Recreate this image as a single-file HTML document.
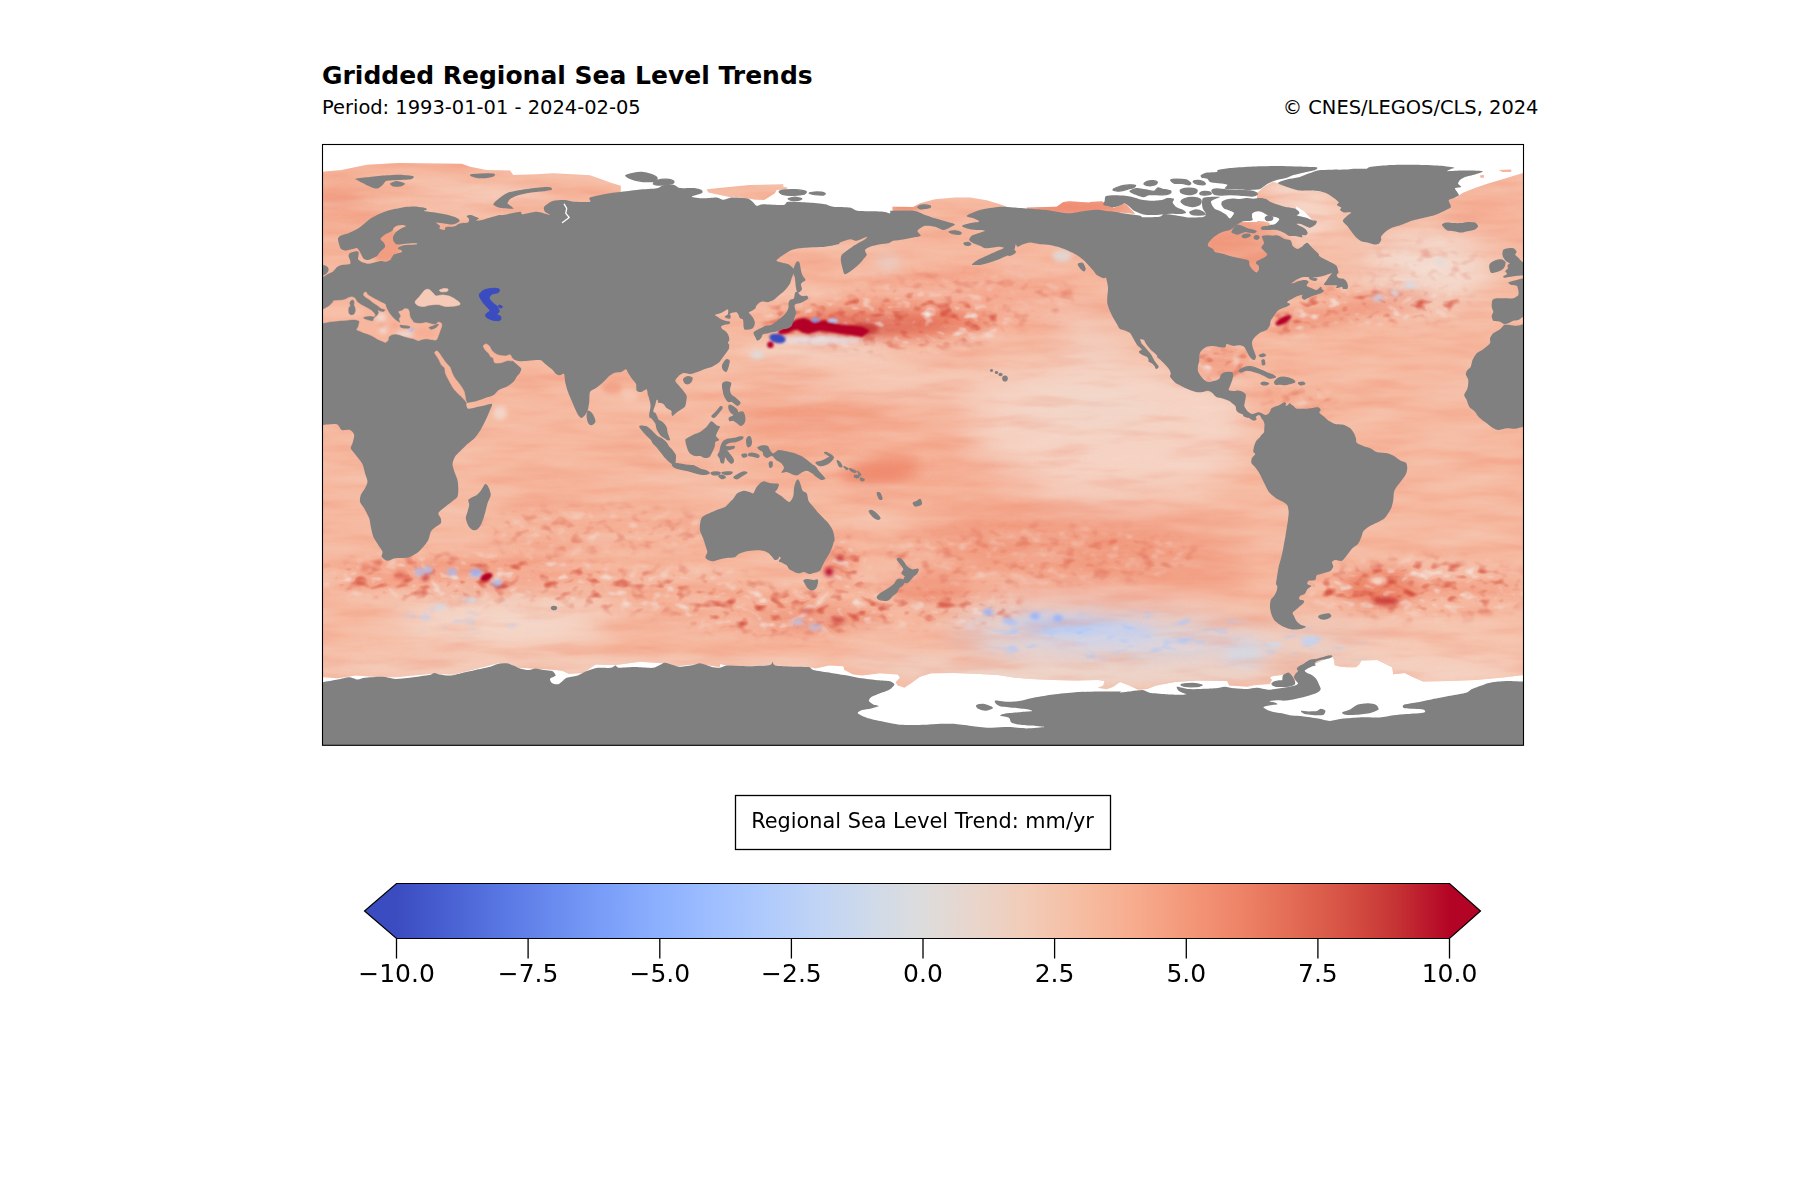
<!DOCTYPE html>
<html lang="en">
<head>
<meta charset="utf-8">
<title>Gridded Regional Sea Level Trends</title>
<style>
html,body{margin:0;padding:0;background:#fff;}
body{width:1800px;height:1200px;overflow:hidden;position:relative;font-family:"DejaVu Sans","Liberation Sans",sans-serif;color:#000;}
svg{position:absolute;left:0;top:0;display:block;}
.t{font-family:"DejaVu Sans","Liberation Sans",sans-serif;fill:#000;}
</style>
</head>
<body>
<svg width="1800" height="1200" viewBox="0 0 1800 1200">
<defs>
<linearGradient id="cw" gradientUnits="userSpaceOnUse" x1="396.5" y1="0" x2="1449.5" y2="0">
<stop offset="0" stop-color="#3b4cc0"/><stop offset="0.05" stop-color="#4961d2"/><stop offset="0.1" stop-color="#5977e3"/><stop offset="0.15" stop-color="#6a8bef"/><stop offset="0.2" stop-color="#7b9ff9"/><stop offset="0.25" stop-color="#8db0fe"/><stop offset="0.3" stop-color="#9ebeff"/><stop offset="0.35" stop-color="#afcafc"/><stop offset="0.4" stop-color="#c0d4f5"/><stop offset="0.45" stop-color="#cfdaea"/><stop offset="0.5" stop-color="#dddcdc"/><stop offset="0.55" stop-color="#e9d5cb"/><stop offset="0.6" stop-color="#f2cbb7"/><stop offset="0.65" stop-color="#f6bda2"/><stop offset="0.7" stop-color="#f7ac8e"/><stop offset="0.75" stop-color="#f4987a"/><stop offset="0.8" stop-color="#ee8468"/><stop offset="0.85" stop-color="#e36c55"/><stop offset="0.9" stop-color="#d65244"/><stop offset="0.95" stop-color="#c53334"/><stop offset="1" stop-color="#b40426"/>
</linearGradient>
</defs>
<text class="t" x="322" y="83.7" font-size="25" font-weight="bold">Gridded Regional Sea Level Trends</text>
<text class="t" x="322" y="113.7" font-size="19.44">Period: 1993-01-01 - 2024-02-05</text>
<text class="t" x="1538.5" y="113.7" font-size="19.44" text-anchor="end">© CNES/LEGOS/CLS, 2024</text>
<defs><clipPath id="mapclip"><rect x="322.5" y="144.5" width="1201" height="600.8"/></clipPath>
<clipPath id="dataclip"><path d="M315,172.5 322,171.7 341.7,170 366.7,164.7 398.3,163 461.7,163.8 470,166.7 486.7,170 510,170.5 513.3,175 536.7,174.2 553.3,173.3 590,175.3 603.3,180 610,182.5 620.8,185.8 620.8,206.7 892.5,223.3 892.5,206.7 913.3,207 920,203.3 935,199.2 955,197.5 970,197.5 986.7,200.3 1000,204.2 1006.7,206.7 1013.3,223.3 1257,222 1257,193 1265,186 1273,182 1290,186 1312.5,190.8 1325,192.5 1456.2,197.5 1462.5,193.1 1475,188.1 1487.5,183.8 1500,180 1512.5,176.2 1523.1,173.1 1531.2,171.9 1541.4,675.3 1522,675.3 1502.7,677.6 1475.3,679.9 1448,681 1422.9,681.5 1413.8,677.6 1404.7,673 1393.3,674.2 1392.2,667.3 1377.4,660 1361.4,660.5 1359.2,664.6 1356,667.3 1346.6,667.3 1339.3,666.6 1334.6,665.3 1334,660 1332.3,656.6 1330,658 1323.4,660 1310,666 1303.4,670.8 1299.9,680.1 1289.9,681.2 1283.3,674.6 1279.9,675.3 1273.3,676 1269.9,677.4 1271.9,680.1 1269.9,684 1253.9,685.3 1247.6,686.7 1229.3,685.6 1227.1,681 1197.4,680.5 1174.7,682.1 1156.4,685.6 1147.3,689 1138.2,689.7 1129.1,685.6 1120,682.1 1113.3,686.7 1106.7,689.3 1097.8,687.8 1103.3,685.6 1104.4,681.1 1097.8,680 1075.6,680.4 1053.3,680 1031.1,678.9 1015.6,677.8 997.8,675.1 975.6,673.8 953.3,672.9 931.1,673.3 920,676.7 911.1,683.3 904.4,687.8 897.8,685.6 895.6,682.2 900,677.8 897.8,674.4 880,673.3 862.2,675.6 853.3,674.4 844.4,670 843.3,666.2 828.9,665.6 815.6,668.4 808.9,667.1 793.3,666.7 770,664.9 746.7,666.2 726.7,665.6 720,664 720,667.1 697.8,664 675.6,666.2 662.2,663.3 640,661.8 615.6,664.9 595.6,664.4 583.3,672.9 568.9,673.8 562.2,670.7 551.1,669.6 520,667.8 497.8,663.3 475.6,668.9 453.3,674.4 431.1,673.8 395.6,677.3 373.3,676.7 355.6,675.6 337.8,678.2 322.7,677.3 313.3,677.3Z M706.7,189.2 726.7,187.2 750,185 783.3,184.2 783.3,186.7 787.5,187.5 786.7,189.2 776.7,190 775,193.3 768.3,197.5 764.2,200 755,199.7 746.7,198.3 733.3,196.7 731.7,197.5 720,195 708.3,192.5Z M1026.7,207.5 1056.7,206.7 1063.3,202 1070,201.3 1088.3,202.5 1103.3,202 1113.3,203.3 1113.3,218.3 1026.7,218.3Z M1090,202 1102,201.3 1107.3,206 1114,208 1123.3,204 1125.3,203.3 1135.3,214 1123.3,212.7 1090,212.7Z M1498.8,170 1511.2,169.4 1511.2,171.9 1502.5,171.9Z M1480,175.6 1483.8,175 1483.8,177.8 1480.6,177.8Z"/></clipPath>
</defs>
<g clip-path="url(#mapclip)">
<g clip-path="url(#dataclip)">
<rect x="320" y="140" width="1210" height="610" fill="#f6b9a0"/>
<defs><filter id="blL" filterUnits="userSpaceOnUse" x="200" y="60" width="1450" height="780"><feGaussianBlur stdDeviation="18"/></filter><filter id="blM" filterUnits="userSpaceOnUse" x="200" y="60" width="1450" height="780"><feGaussianBlur stdDeviation="7"/></filter><filter id="blS" filterUnits="userSpaceOnUse" x="200" y="60" width="1450" height="780"><feGaussianBlur stdDeviation="2.2"/></filter><filter id="blX" filterUnits="userSpaceOnUse" x="200" y="60" width="1450" height="780"><feGaussianBlur stdDeviation="0.8"/></filter></defs>
<g filter="url(#blL)">
<ellipse cx="1010" cy="380" rx="260" ry="16" fill="#f5d6c7" opacity="0.7"/>
<ellipse cx="890" cy="432" rx="165" ry="20" fill="#f4a186" opacity="0.6"/>
<ellipse cx="960" cy="300" rx="130" ry="28" fill="#f4a186" opacity="0.55"/>
<ellipse cx="1110" cy="430" rx="140" ry="72" fill="#f4d3c4" opacity="0.95"/>
<ellipse cx="1090" cy="405" rx="70" ry="18" fill="#efd8cc" opacity="0.8"/>
<ellipse cx="1090" cy="340" rx="30" ry="25" fill="#f0d6ca" opacity="0.7"/>
<ellipse cx="790" cy="420" rx="50" ry="40" fill="#f4a58a" opacity="0.5"/>
<ellipse cx="950" cy="478" rx="95" ry="14" fill="#f39a7c" opacity="0.6"/>
<ellipse cx="1080" cy="548" rx="170" ry="36" fill="#f08f72" opacity="0.7" transform="rotate(4 1080 548)"/>
<ellipse cx="1110" cy="640" rx="160" ry="24" fill="#d3dcee" opacity="0.95" transform="rotate(3 1110 640)"/>
<ellipse cx="600" cy="530" rx="110" ry="18" fill="#f4a186" opacity="0.5"/>
<ellipse cx="500" cy="622" rx="110" ry="28" fill="#f3dace" opacity="0.95"/>
<ellipse cx="720" cy="612" rx="120" ry="20" fill="#f3a084" opacity="0.4"/>
<ellipse cx="1425" cy="268" rx="68" ry="36" fill="#f2dcd2" opacity="0.95"/>
<ellipse cx="1305" cy="215" rx="38" ry="32" fill="#f5dacd" opacity="0.95"/>
<ellipse cx="1490" cy="205" rx="40" ry="35" fill="#f4a58a" opacity="0.4"/>
<ellipse cx="345" cy="205" rx="40" ry="25" fill="#f19579" opacity="0.55"/>
<ellipse cx="1320" cy="647" rx="95" ry="17" fill="#e3dad8" opacity="0.8"/>
<ellipse cx="1440" cy="652" rx="95" ry="26" fill="#f5d0bf" opacity="0.75"/>
</g>
<g filter="url(#blM)">
<ellipse cx="810" cy="418" rx="75" ry="12" fill="#f08f72" opacity="0.6"/>
<ellipse cx="890" cy="322" rx="100" ry="16" fill="#e8775c" opacity="0.7"/>
<ellipse cx="845" cy="328" rx="55" ry="9" fill="#d65244" opacity="0.7"/>
<ellipse cx="905" cy="326" rx="45" ry="8" fill="#d65244" opacity="0.5"/>
<ellipse cx="815" cy="350" rx="75" ry="9" fill="#f3d5c6" opacity="0.9"/>
<ellipse cx="880" cy="472" rx="40" ry="13" fill="#ee8468" opacity="0.8" transform="rotate(-8 880 472)"/>
<ellipse cx="930" cy="590" rx="40" ry="18" fill="#ee8468" opacity="0.5"/>
<ellipse cx="1085" cy="628" rx="70" ry="9" fill="#afcafc" opacity="0.8" transform="rotate(5 1085 628)"/>
<ellipse cx="1090" cy="674" rx="200" ry="12" fill="#ecd6cb" opacity="0.85"/>
<ellipse cx="900" cy="662" rx="60" ry="13" fill="#f1cfc0" opacity="0.7"/>
<ellipse cx="840" cy="565" rx="14" ry="20" fill="#ee8468" opacity="0.6"/>
<ellipse cx="820" cy="620" rx="70" ry="12" fill="#ec8166" opacity="0.5"/>
<ellipse cx="470" cy="575" rx="125" ry="17" fill="#f3957a" opacity="0.5"/>
<ellipse cx="595" cy="476" rx="30" ry="7" fill="#f4a186" opacity="0.5"/>
<ellipse cx="560" cy="668" rx="270" ry="11" fill="#f3cfbf" opacity="0.8"/>
<ellipse cx="1350" cy="312" rx="85" ry="9" fill="#ec8166" opacity="0.55" transform="rotate(-12 1350 312)"/>
<ellipse cx="1292" cy="194" rx="26" ry="12" fill="#f5d6c8" opacity="0.9"/>
<ellipse cx="480" cy="195" rx="70" ry="14" fill="#f5cdbb" opacity="0.6"/>
<ellipse cx="338" cy="200" rx="25" ry="4" fill="#e8775c" opacity="0.5" transform="rotate(-5 338 200)"/>
<ellipse cx="1380" cy="588" rx="40" ry="20" fill="#e9795e" opacity="0.75"/>
<ellipse cx="1460" cy="588" rx="70" ry="9" fill="#f19579" opacity="0.5"/>
<ellipse cx="1245" cy="652" rx="22" ry="14" fill="#cfdaea" opacity="0.8"/>
<ellipse cx="1430" cy="670" rx="95" ry="13" fill="#f4d0c0" opacity="0.8"/>
<ellipse cx="1245" cy="250" rx="45" ry="30" fill="#f09b7f" opacity="0.95"/>
<ellipse cx="1220" cy="362" rx="30" ry="15" fill="#f19579" opacity="0.7"/>
<ellipse cx="1290" cy="400" rx="50" ry="14" fill="#f4a58a" opacity="0.5"/>
<ellipse cx="1075" cy="207" rx="55" ry="8" fill="#ec8166" opacity="0.9"/>
<ellipse cx="888" cy="262" rx="12" ry="8" fill="#e3dad8" opacity="0.8"/>
</g>
<defs><mask id="eddy" maskUnits="userSpaceOnUse" x="300" y="130" width="1250" height="640"><g filter="url(#blM)"><ellipse cx="470" cy="578" rx="150" ry="22" fill="#fff" opacity="1"/><ellipse cx="650" cy="590" rx="120" ry="22" fill="#fff" opacity="0.8"/><ellipse cx="790" cy="612" rx="110" ry="22" fill="#fff" opacity="1"/><ellipse cx="940" cy="606" rx="80" ry="20" fill="#fff" opacity="0.8"/><ellipse cx="1420" cy="588" rx="110" ry="28" fill="#fff" opacity="1"/><ellipse cx="1380" cy="588" rx="45" ry="25" fill="#fff" opacity="1"/><ellipse cx="890" cy="322" rx="120" ry="26" fill="#fff" opacity="1"/><ellipse cx="790" cy="320" rx="25" ry="18" fill="#fff" opacity="0.8"/><ellipse cx="1365" cy="306" rx="105" ry="16" fill="#fff" opacity="1"/><ellipse cx="1290" cy="322" rx="20" ry="12" fill="#fff" opacity="1"/><ellipse cx="848" cy="570" rx="20" ry="34" fill="#fff" opacity="1"/><ellipse cx="1220" cy="362" rx="32" ry="16" fill="#fff" opacity="0.9"/><ellipse cx="1300" cy="400" rx="40" ry="12" fill="#fff" opacity="0.5"/><ellipse cx="1040" cy="555" rx="160" ry="30" fill="#fff" opacity="0.45"/><ellipse cx="600" cy="530" rx="120" ry="22" fill="#fff" opacity="0.5"/><ellipse cx="960" cy="300" rx="120" ry="30" fill="#fff" opacity="0.4"/><ellipse cx="1425" cy="270" rx="60" ry="30" fill="#fff" opacity="0.3"/><ellipse cx="385" cy="330" rx="40" ry="10" fill="#fff" opacity="0.6"/></g></mask>
<filter id="nzR" filterUnits="userSpaceOnUse" x="322" y="144" width="1202" height="601" color-interpolation-filters="sRGB"><feTurbulence type="fractalNoise" baseFrequency="0.065 0.1" numOctaves="2" seed="7"/><feColorMatrix type="matrix" values="0 0 0 0 0.84  0 0 0 0 0.33  0 0 0 0 0.26  3.4 0 0 0 -1.85"/></filter>
<filter id="nzP" filterUnits="userSpaceOnUse" x="322" y="144" width="1202" height="601" color-interpolation-filters="sRGB"><feTurbulence type="fractalNoise" baseFrequency="0.065 0.1" numOctaves="2" seed="7"/><feColorMatrix type="matrix" values="0 0 0 0 0.95  0 0 0 0 0.90  0 0 0 0 0.88  -3.4 0 0 0 1.45"/></filter>
<filter id="nzF" filterUnits="userSpaceOnUse" x="322" y="144" width="1202" height="601" color-interpolation-filters="sRGB"><feTurbulence type="fractalNoise" baseFrequency="0.012 0.07" numOctaves="3" seed="21"/><feColorMatrix type="matrix" values="0 0 0 0 0.93  0 0 0 0 0.48  0 0 0 0 0.36  2.4 0 0 0 -1.2"/></filter>
<filter id="nzG" filterUnits="userSpaceOnUse" x="322" y="144" width="1202" height="601" color-interpolation-filters="sRGB"><feTurbulence type="fractalNoise" baseFrequency="0.012 0.07" numOctaves="3" seed="21"/><feColorMatrix type="matrix" values="0 0 0 0 0.96  0 0 0 0 0.88  0 0 0 0 0.84  -2.4 0 0 0 1.2"/></filter></defs>
<rect x="322" y="144" width="1202" height="601" filter="url(#nzF)" opacity="0.3"/>
<rect x="322" y="144" width="1202" height="601" filter="url(#nzG)" opacity="0.3"/>
<defs><mask id="eddyB" maskUnits="userSpaceOnUse" x="300" y="130" width="1250" height="640"><g filter="url(#blM)"><ellipse cx="1110" cy="636" rx="150" ry="22" fill="#fff"/><ellipse cx="1300" cy="645" rx="90" ry="16" fill="#fff" opacity="0.7"/><ellipse cx="470" cy="615" rx="80" ry="18" fill="#fff" opacity="0.5"/></g></mask><filter id="nzB" filterUnits="userSpaceOnUse" x="322" y="144" width="1202" height="601" color-interpolation-filters="sRGB"><feTurbulence type="fractalNoise" baseFrequency="0.05 0.11" numOctaves="2" seed="11"/><feColorMatrix type="matrix" values="0 0 0 0 0.66  0 0 0 0 0.78  0 0 0 0 0.99  3.0 0 0 0 -1.75"/></filter></defs>
<g mask="url(#eddyB)"><rect x="322" y="144" width="1202" height="601" filter="url(#nzB)"/></g>
<g mask="url(#eddy)"><rect x="322" y="144" width="1202" height="601" filter="url(#nzR)"/><rect x="322" y="144" width="1202" height="601" filter="url(#nzP)"/></g>
<g filter="url(#blS)">
<ellipse cx="757" cy="355" rx="7" ry="4" fill="#dddcdc" opacity="0.9"/>
<ellipse cx="988" cy="612" rx="5" ry="3" fill="#8db0fe" opacity="1"/>
<ellipse cx="1035" cy="616" rx="5" ry="3" fill="#8db0fe" opacity="1"/>
<ellipse cx="1058" cy="618" rx="5" ry="3" fill="#8db0fe" opacity="1"/>
<ellipse cx="1010" cy="622" rx="8" ry="2.5" fill="#9ebeff" opacity="0.9" transform="rotate(10 1010 622)"/>
<ellipse cx="840" cy="558" rx="4" ry="3" fill="#c53334" opacity="1"/>
<ellipse cx="829" cy="572" rx="4" ry="4" fill="#b40426" opacity="1"/>
<ellipse cx="807" cy="611" rx="8" ry="3" fill="#d65244" opacity="0.8"/>
<ellipse cx="838" cy="620" rx="7" ry="3" fill="#c53334" opacity="0.8"/>
<ellipse cx="815" cy="627" rx="7" ry="2.5" fill="#afcafc" opacity="0.9"/>
<ellipse cx="798" cy="622" rx="6" ry="2.5" fill="#afcafc" opacity="0.9"/>
<ellipse cx="425" cy="617" rx="5" ry="3" fill="#c0d4f5" opacity="0.9"/>
<ellipse cx="440" cy="607" rx="6" ry="3" fill="#cfdaea" opacity="0.9"/>
<ellipse cx="470" cy="600" rx="8" ry="3" fill="#d5dbe5" opacity="0.9"/>
<ellipse cx="500" cy="413" rx="7" ry="7" fill="#f3d8cc" opacity="0.85"/>
<ellipse cx="612" cy="388" rx="10" ry="6" fill="#f2957a" opacity="0.6"/>
<ellipse cx="630" cy="395" rx="8" ry="6" fill="#f5cdbb" opacity="0.6"/>
<ellipse cx="425" cy="578" rx="3" ry="3" fill="#c53334" opacity="1"/>
<ellipse cx="419" cy="572" rx="4" ry="3" fill="#9ebeff" opacity="1"/>
<ellipse cx="428" cy="570" rx="4" ry="3" fill="#9ebeff" opacity="1"/>
<ellipse cx="452" cy="572" rx="5" ry="3" fill="#9ebeff" opacity="1"/>
<ellipse cx="476" cy="573" rx="6" ry="3.5" fill="#8db0fe" opacity="1"/>
<ellipse cx="497" cy="583" rx="5" ry="3" fill="#9ebeff" opacity="1"/>
<ellipse cx="400" cy="575" rx="6" ry="4" fill="#dc5d4a" opacity="0.7"/>
<ellipse cx="365" cy="568" rx="5" ry="4" fill="#e36c55" opacity="0.6"/>
<ellipse cx="1410" cy="285" rx="6" ry="3" fill="#cfdaea" opacity="0.9"/>
<ellipse cx="1395" cy="293" rx="5" ry="3" fill="#d5dbe5" opacity="0.9"/>
<ellipse cx="1440" cy="262" rx="6" ry="3" fill="#e0dcdc" opacity="0.9"/>
<ellipse cx="1378" cy="298" rx="5" ry="3" fill="#c0d4f5" opacity="0.9"/>
<ellipse cx="1386" cy="601" rx="13" ry="4" fill="#c53334" opacity="0.85"/>
<ellipse cx="1378" cy="580" rx="10" ry="3.5" fill="#f6d2c0" opacity="0.85"/>
<ellipse cx="1310" cy="640" rx="10" ry="4" fill="#c0d4f5" opacity="0.9"/>
<ellipse cx="1275" cy="645" rx="8" ry="3" fill="#cfdaea" opacity="0.9"/>
<ellipse cx="1236" cy="360" rx="2.5" ry="5" fill="#f5dccf" opacity="0.9"/>
<ellipse cx="385" cy="245" rx="16" ry="18" fill="#f09b7f" opacity="0.9"/>
<ellipse cx="905" cy="207.5" rx="16" ry="2.5" fill="#ee8468" opacity="0.9"/>
<ellipse cx="1062" cy="256" rx="10" ry="6" fill="#dddcdc" opacity="0.8"/>
<ellipse cx="818" cy="340" rx="42" ry="3.5" fill="#e6e0e6" opacity="0.9"/>
<ellipse cx="865" cy="329" rx="14" ry="6" fill="#c53334" opacity="0.8"/>
</g>
<g filter="url(#blX)">
<ellipse cx="486.5" cy="577" rx="6.5" ry="3.6" fill="#b40426" opacity="1" transform="rotate(-25 486.5 577)"/>
<ellipse cx="1283.5" cy="320.3" rx="9" ry="3.2" fill="#b40426" opacity="1" transform="rotate(-30 1283.5 320.3)"/>
<ellipse cx="777.5" cy="338.5" rx="8.3" ry="4.6" fill="#3b4cc0" opacity="1" transform="rotate(12 777.5 338.5)"/>
<ellipse cx="770.4" cy="344.8" rx="3.2" ry="3.2" fill="#b40426" opacity="1"/>
<ellipse cx="815.4" cy="320.3" rx="3.6" ry="2.6" fill="#7b9ff9" opacity="1"/>
<ellipse cx="833" cy="320.5" rx="5" ry="2" fill="#afcafc" opacity="1"/>
<path fill="#b40426" stroke="#b40426" stroke-width="2.2" stroke-linejoin="round" d="M779,331.8 786.7,327.5 792,323.2 797.5,320 804,318.8 809.4,321 814.8,323.4 819.2,322 824.6,321 830,323.2 840.8,325.3 851.7,326.4 862,327.8 868,331 862,336 851.7,334.2 840.8,333 830,330.8 819.2,329.7 808.3,333 803,331.8 797.5,328.6 792,329.7 786.7,332.4 780.2,333.4Z"/>
</g>
</g>
<path fill="#fff" d="M1251.3,212 1258.7,210 1264.7,211.3 1267.3,214 1272.7,215.3 1276.7,216.7 1280.7,219.3 1276.7,224.3 1270,225.3 1269.3,222.7 1263.3,221.3 1256.7,221 1251.3,221.3Z M1296.2,206.2 1300,208.8 1303.8,211.2 1308.8,216.2 1311.9,219.4 1307.5,218.8 1300,216.9 1296.2,216.2Z"/>
<path fill="#808080" d="M355.8,178.7C357.3,178.2 366.1,177.4 370,177C373.9,176.6 382.9,175.6 386.7,175.3C390.4,175.0 396.7,174.6 400,174.7C403.3,174.8 411.9,175.7 413.3,176.3C414.7,176.9 412.7,178.7 410.8,179.2C408.9,179.7 401.3,179.8 398.3,180C395.3,180.2 388.6,180.3 386.7,180.8C384.8,181.3 384.4,183.3 383.3,184.2C382.2,185.1 379.6,187.8 378.3,188.3C377.1,188.8 375.0,188.5 373.3,188C371.6,187.5 366.9,185.1 365,184.2C363.1,183.3 359.4,181.5 358.3,180.8C357.2,180.1 354.3,179.2 355.8,178.7Z M493.3,204.2C493.6,203.1 497.3,199.8 499.2,198.3C501.1,196.8 505.1,193.6 508.3,192.5C511.5,191.4 520.6,189.9 525,189.2C529.4,188.5 540.1,187.4 543.3,187.2C546.5,187.0 549.8,187.2 550.8,187.5C551.8,187.8 552.6,189.2 551.7,189.7C550.8,190.2 546.2,190.9 543.3,191.3C540.4,191.7 531.6,192.4 528.3,193C525.0,193.6 519.0,195.0 516.7,195.8C514.4,196.6 511.1,198.3 510,199.2C508.9,200.1 507.3,202.4 507.5,203.3C507.7,204.2 511.0,206.0 511.7,206.7C512.4,207.4 514.3,208.5 513.3,208.7C512.2,208.9 505.4,208.6 503.3,208.3C501.2,208.1 497.9,207.2 496.7,206.7C495.4,206.2 493.0,205.2 493.3,204.2Z M795.2,292.5C795.6,292.0 796.9,291.5 797.5,291.8C798.1,292.1 799.0,294.2 799.8,294.8C800.5,295.4 802.6,296.1 803.5,296.2C804.4,296.3 806.6,295.6 807.2,295.9C807.8,296.2 808.3,297.9 808,298.5C807.7,299.1 805.9,300.2 805,300.8C804.1,301.4 801.5,302.6 800.5,303C799.5,303.4 797.5,303.5 796.8,303.8C796.0,304.1 794.7,304.6 794.5,305.2C794.3,305.8 795.0,308.0 795.2,309C795.4,310.0 796.1,312.4 796,313.5C795.9,314.6 794.9,316.9 794.5,318C794.1,319.1 793.4,321.5 793,322.5C792.6,323.5 792.1,325.4 791.5,326.2C790.9,326.9 788.9,328.1 787.8,328.5C786.7,328.9 783.5,329.0 782.5,329.2C781.5,329.4 780.2,329.7 779.5,330C778.8,330.3 777.4,331.2 776.5,331.5C775.6,331.8 773.1,332.0 772,332.2C770.9,332.4 768.4,333.2 767.5,333.4C766.6,333.6 765.2,333.6 764.5,333.8C763.8,334.0 762.6,334.7 762.2,335.2C761.8,335.7 761.9,336.9 761.5,337.5C761.1,338.1 759.8,339.7 759.2,340.1C758.6,340.5 757.5,340.8 757,340.5C756.5,340.2 755.9,338.2 755.5,337.5C755.1,336.8 754.2,335.2 754,334.5C753.8,333.8 753.2,332.8 753.6,332.2C754.0,331.6 756.0,330.6 757,330C758.0,329.4 760.5,328.3 761.5,327.8C762.5,327.3 764.1,326.2 765.2,325.9C766.3,325.6 769.3,325.5 770.5,325.1C771.7,324.7 773.9,323.3 775,322.5C776.1,321.7 778.4,319.7 779.5,318.8C780.6,317.9 783.1,315.9 784,315C784.9,314.1 786.4,312.1 787,311.2C787.6,310.3 788.3,308.5 788.5,307.5C788.7,306.5 788.3,303.9 788.5,303C788.7,302.1 789.3,300.6 790,300C790.7,299.4 793.2,299.1 793.8,298.5C794.4,297.9 794.3,296.2 794.5,295.5C794.7,294.8 794.8,293.0 795.2,292.5Z M322,277C324.1,276.7 325.6,275.2 327,274.5C328.4,273.8 331.8,272.4 333,271.5C334.2,270.6 335.9,267.8 337,267C338.1,266.2 340.4,265.4 342,265C343.6,264.6 349.0,264.6 350,264C351.0,263.4 350.2,261.0 350,260C349.8,259.0 348.5,256.9 348.5,256C348.5,255.1 349.1,253.6 350,253C350.9,252.4 354.9,251.3 356,251.2C357.1,251.1 358.2,251.4 358.5,252C358.8,252.6 358.6,255.1 358.5,256C358.4,256.9 357.8,258.4 358,259C358.2,259.6 359.4,260.6 360,261C360.6,261.4 361.9,262.1 363,262.5C364.1,262.9 367.4,263.9 369,263.8C370.6,263.7 374.4,262.4 376,262C377.6,261.6 380.8,261.0 382,261C383.2,261.0 385.0,261.9 386,261.8C387.0,261.7 389.2,260.6 390,260C390.8,259.4 391.5,257.7 392,257C392.5,256.3 393.1,255.0 394,254.5C394.9,254.0 398.0,253.3 399,253C400.0,252.7 401.8,252.4 402,252C402.2,251.6 401.5,250.4 401,250C400.5,249.6 398.2,249.4 398,249C397.8,248.6 398.1,247.5 399,247C399.9,246.5 402.9,245.3 405,245C407.1,244.7 414.6,244.7 416,244.5C417.4,244.3 417.5,243.3 416.5,243.2C415.5,243.1 410.1,243.3 408,243.5C405.9,243.7 401.5,244.4 400,244.5C398.5,244.6 396.8,244.4 396,244C395.2,243.6 393.9,241.9 393.5,241C393.1,240.1 392.7,238.1 393,237C393.3,235.9 394.9,233.1 396,232C397.1,230.9 400.8,228.7 402,228C403.2,227.3 405.9,226.6 406,226.2C406.1,225.8 404.0,225.1 403,225C402.0,224.9 399.1,225.2 398,225.5C396.9,225.8 394.8,226.8 394,227.5C393.2,228.2 393.1,230.1 392,231C390.9,231.9 386.4,233.5 385,234.5C383.6,235.5 380.6,237.9 380.5,239C380.4,240.1 383.4,242.0 384,243C384.6,244.0 385.5,245.9 385,247C384.5,248.1 381.0,250.9 380,252C379.0,253.1 378.0,255.2 377,256C376.0,256.8 373.1,258.0 372,258.5C370.9,259.0 369.0,259.9 368,260C367.0,260.1 364.8,259.5 364,259C363.2,258.5 362.5,256.9 362,256C361.5,255.1 360.6,253.0 360,252C359.4,251.0 357.9,248.4 357,248C356.1,247.6 354.4,248.7 353,249C351.6,249.3 347.5,250.5 346,250.5C344.5,250.5 341.9,249.8 341,249C340.1,248.2 339.4,245.3 339,244C338.6,242.7 337.8,239.6 338,238.5C338.2,237.4 339.6,236.2 341,235.5C342.4,234.8 346.9,233.9 349,233C351.1,232.1 356.1,229.6 358,228.5C359.9,227.4 362.5,225.2 364,224C365.5,222.8 368.4,220.1 370,219C371.6,217.9 374.8,216.1 377,215C379.2,213.9 385.4,211.3 388,210.5C390.6,209.7 395.9,208.9 398,208.5C400.1,208.1 402.9,207.2 405,207C407.1,206.8 412.5,206.4 415,206.5C417.5,206.6 423.5,207.6 425,208C426.5,208.4 427.1,209.1 427,209.5C426.9,209.9 423.0,210.6 424,211C425.0,211.4 432.2,212.1 435,212.5C437.8,212.9 443.5,213.9 446,214.5C448.5,215.1 453.3,216.3 455,217C456.7,217.7 459.1,219.3 459.5,220C459.9,220.7 458.9,221.9 458,222.5C457.1,223.1 453.8,224.4 452,224.5C450.2,224.6 446.0,223.8 444,223.5C442.0,223.2 436.5,222.2 436,222.5C435.5,222.8 439.6,225.2 440,226C440.4,226.8 438.9,228.0 439.5,228.5C440.1,229.0 443.7,230.2 444.5,230C445.3,229.8 444.8,227.4 446,227C447.2,226.6 452.2,226.9 454,226.5C455.8,226.1 458.2,224.0 460,223.5C461.8,223.0 466.9,223.1 468,222.5C469.1,221.9 469.2,219.8 469,219C468.8,218.2 466.2,216.5 466.5,216C466.8,215.5 469.8,214.9 471,215C472.2,215.1 475.0,216.6 476,217C477.0,217.4 479.0,218.1 479,218.5C479.0,218.9 475.6,220.3 476,220.5C476.4,220.7 480.0,220.4 482,220C484.0,219.6 489.8,217.6 492,217C494.2,216.4 498.6,215.2 500,215C501.4,214.8 500.8,215.4 503.3,215C505.8,214.6 517.6,211.8 520,211.7C522.4,211.6 520.4,214.2 522.5,214.2C524.6,214.2 533.3,211.6 536.7,211.7C540.1,211.8 549.0,215.0 550,215C551.0,215.0 545.7,212.7 545,211.7C544.3,210.7 543.2,208.1 544.2,206.7C545.2,205.3 550.7,201.6 553.3,200.8C555.9,200.0 562.5,199.9 565,200C567.5,200.1 570.2,201.5 573.3,201.7C576.4,201.9 587.9,202.2 590,201.7C592.1,201.2 587.5,198.6 590,197.5C592.5,196.4 606.2,194.0 610,193.3C613.8,192.6 616.5,192.4 620,192C623.5,191.6 633.7,190.2 638.3,189.7C642.9,189.2 653.6,188.9 656.7,188.3C659.8,187.8 661.2,185.8 663.3,185.3C665.4,184.9 671.2,184.4 673.3,184.7C675.4,185.0 677.5,187.6 680,188C682.5,188.4 690.6,187.8 693.3,188C696.0,188.2 700.7,189.3 701.7,190C702.8,190.7 703.0,192.5 701.7,193.3C700.5,194.1 691.5,196.1 691.7,196.7C691.9,197.3 700.2,198.2 703.3,198.3C706.4,198.4 714.2,197.3 716.7,197.5C719.2,197.7 721.4,199.7 723.3,199.7C725.2,199.7 728.8,197.7 731.7,197.5C734.6,197.3 744.1,197.8 746.7,198.3C749.3,198.8 751.2,200.8 752.5,201.7C753.8,202.6 755.4,205.5 756.7,205.8C758.1,206.1 760.0,204.3 763.3,204.2C766.6,204.1 780.2,205.3 783.3,205C786.4,204.7 785.2,202.0 788.3,201.7C791.4,201.4 803.7,202.2 808.3,202.5C812.9,202.8 821.9,203.7 825,204.2C828.1,204.7 830.2,206.3 833.3,206.7C836.4,207.1 847.0,207.0 850,207.5C853.0,208.0 854.6,210.3 857.5,210.8C860.4,211.3 870.1,211.2 873.3,211.3C876.5,211.4 881.2,211.4 883.3,211.7C885.4,211.9 889.2,213.4 890,213.3C890.8,213.2 890.0,211.1 890,210.8C890.0,210.5 887.1,210.8 890,210.8C892.9,210.8 909.1,210.4 913.3,210.8C917.5,211.2 920.6,213.3 923.3,214.2C926.0,215.1 932.1,217.4 935,218.3C937.9,219.2 944.2,221.0 946.7,221.7C949.2,222.4 954.6,223.5 955,224.2C955.4,224.9 951.5,226.8 950,227.5C948.5,228.2 945.2,230.1 943.3,230C941.4,229.9 937.3,227.2 935,226.7C932.7,226.2 927.2,225.3 925,225.8C922.8,226.3 918.0,229.6 917.5,230.8C917.0,232.1 921.3,235.0 920.8,235.8C920.3,236.6 915.9,237.0 913.3,237.5C910.7,238.0 902.5,239.6 900,240C897.5,240.4 894.8,240.4 893.3,240.8C891.8,241.2 890.0,242.9 888.3,243.3C886.6,243.7 882.3,243.8 880,244.2C877.7,244.6 871.9,246.0 870,246.7C868.1,247.4 865.4,249.0 865,250C864.6,251.0 866.9,253.8 866.7,255C866.5,256.1 864.1,258.2 863.3,259.2C862.5,260.2 861.2,262.1 860,263.3C858.8,264.6 855.2,267.8 853.3,269.2C851.4,270.6 846.4,274.3 845,274.2C843.6,274.1 843.0,270.1 842.5,268.3C842.0,266.5 840.9,261.7 840.8,260C840.7,258.3 841.0,256.1 841.7,255C842.4,253.8 845.0,252.1 846.7,250.8C848.4,249.6 852.7,246.4 855,245C857.3,243.6 863.5,240.2 865,239.2C866.5,238.2 867.7,236.5 866.7,236.7C865.7,236.9 858.8,240.5 856.7,240.8C854.6,241.1 852.1,239.0 850,239.2C847.9,239.4 841.5,241.9 840,242.5C838.5,243.1 840.2,243.7 838.3,244.2C836.4,244.7 828.8,246.3 825,246.7C821.2,247.1 812.5,247.1 808.3,247.5C804.1,247.9 795.7,248.4 791.7,250C787.8,251.6 778.0,258.4 776.7,260C775.5,261.6 780.2,262.0 781.7,262.5C783.2,263.0 786.8,263.5 788.3,264.2C789.8,264.9 792.6,267.4 793.3,268.3C794.0,269.2 794.4,270.6 794.2,271.7C794.0,272.8 792.4,276.0 791.9,277.5C791.4,279.0 790.7,282.1 790,283.5C789.3,284.9 787.1,287.7 786.2,288.8C785.3,289.9 783.5,291.6 782.5,292.5C781.5,293.4 779.1,295.3 778,296.2C776.9,297.1 774.8,299.2 773.5,300C772.2,300.8 768.9,302.0 767.5,302.2C766.1,302.4 763.3,301.4 762.2,301.5C761.1,301.6 759.2,302.8 758.5,303.4C757.8,304.0 756.6,305.4 756.2,306C755.8,306.6 756.0,307.6 755.5,308.2C755.0,308.8 753.3,310.0 752.5,310.5C751.7,311.0 749.0,311.8 748.8,312.4C748.6,313.0 750.5,314.3 751,315C751.5,315.7 752.7,317.1 753.2,318C753.7,318.9 754.6,320.9 754.8,321.8C754.9,322.7 754.7,324.7 754.4,325.5C754.1,326.3 753.2,328.0 752.5,328.5C751.8,329.0 749.8,329.5 748.8,329.6C747.8,329.7 745.3,330.0 744.6,329.6C743.9,329.2 743.6,327.1 743.5,326.2C743.4,325.3 743.5,323.3 743.4,322.5C743.3,321.7 743.2,320.1 742.8,319.5C742.3,318.9 740.3,318.6 739.8,318C739.3,317.4 739.0,315.7 738.6,315C738.2,314.3 737.6,312.7 736.8,312.4C736.0,312.1 733.1,312.6 732.2,312.8C731.3,313.0 729.8,313.8 729.6,314.2C729.4,314.6 730.8,315.2 730.8,315.8C730.8,316.4 730.6,318.5 730,318.8C729.4,319.1 726.9,318.3 726.2,318C725.6,317.7 724.6,317.0 724.8,316.5C725.0,316.0 727.4,315.1 727.8,314.2C728.2,313.3 728.4,309.9 728.1,309.4C727.8,308.9 726.4,310.0 725.5,310.5C724.6,311.0 722.3,312.5 721,313.1C719.7,313.7 715.4,314.5 715,315C714.6,315.5 717.1,316.6 718,317.2C718.9,317.8 720.8,319.0 721.8,319.5C722.8,320.0 725.2,320.7 726.2,321C727.2,321.3 729.6,321.4 730,321.8C730.4,322.2 729.9,323.6 729.2,324C728.6,324.4 725.8,324.5 724.8,324.8C723.8,325.1 721.3,326.1 721,326.6C720.7,327.2 721.9,328.6 722.5,329.2C723.1,329.8 725.2,330.8 725.9,331.5C726.6,332.2 727.7,333.8 728.1,334.5C728.5,335.2 729.0,336.8 729.1,337.5C729.2,338.2 729.4,339.8 729.2,340.5C729.0,341.2 727.8,342.2 727.8,342.8C727.8,343.4 729.1,344.2 729.2,345C729.3,345.8 729.2,347.9 728.9,348.8C728.6,349.7 727.5,351.1 727,351.8C726.5,352.6 725.4,354.1 724.8,354.8C724.2,355.6 723.0,357.2 722.5,357.8C722.0,358.4 721.5,359.4 721,360C720.5,360.6 719.8,361.9 718.7,362.7C717.6,363.5 713.8,365.9 712,366.7C710.2,367.5 705.8,368.6 704,369.3C702.2,370.0 699.0,371.4 697.3,372C695.6,372.6 692.0,373.8 690.7,374C689.4,374.2 687.6,373.4 686.7,373.3C685.8,373.2 684.3,372.8 683.3,373.1C682.3,373.4 679.7,375.1 678.7,376C677.7,376.9 675.3,379.5 675.3,380.7C675.3,381.9 677.7,384.1 678.7,385.3C679.7,386.6 682.3,389.4 683.3,390.7C684.3,392.0 686.4,394.5 686.7,396C687.0,397.5 686.2,401.4 686,402.7C685.8,404.0 685.5,405.7 685,406.5C684.5,407.3 682.9,408.4 682,409C681.1,409.6 678.9,410.9 678,411.5C677.1,412.1 675.7,413.4 675,414C674.3,414.6 672.9,416.0 672.5,416C672.1,416.0 671.6,414.6 671.5,414C671.4,413.4 671.8,411.6 671.5,411C671.2,410.4 669.7,409.9 669,409.5C668.3,409.1 666.6,408.1 666,407.5C665.4,406.9 664.6,405.1 664,404.5C663.4,403.9 661.8,403.2 661,403C660.2,402.8 658.4,402.8 658,402.5C657.6,402.2 658.2,400.8 658,400.5C657.8,400.2 656.8,399.6 656.5,400C656.2,400.4 655.8,403.1 655.5,404C655.2,404.9 654.8,406.2 654.5,407C654.2,407.8 653.6,409.4 653.5,410C653.4,410.6 653.2,411.6 653.5,412C653.8,412.4 655.1,412.5 655.5,413C655.9,413.5 656.6,415.2 657,416C657.4,416.8 657.9,418.8 658.5,419.5C659.1,420.2 661.2,420.9 662,421.5C662.8,422.1 664.4,423.7 665,424.5C665.6,425.3 666.7,427.1 667,428C667.3,428.9 667.2,430.9 667.5,432C667.8,433.1 668.7,435.6 669,436.5C669.3,437.4 669.9,438.7 670,439.2C670.1,439.7 669.9,440.4 669.5,440.5C669.1,440.6 667.7,440.3 667,440C666.3,439.7 664.8,438.5 664,438C663.2,437.5 661.6,436.6 661,436C660.4,435.4 659.5,434.2 659,433.5C658.5,432.8 657.6,431.3 657.2,430.5C656.8,429.7 656.2,427.8 656,427C655.8,426.2 655.8,424.8 655.5,424C655.2,423.2 654.0,421.7 653.5,421C653.0,420.3 652.0,418.9 651.5,418.5C651.0,418.1 649.8,418.1 649.5,417.5C649.2,416.9 649.1,414.9 649.2,414C649.3,413.1 649.8,411.1 650,410C650.2,408.9 650.6,406.2 650.5,405C650.4,403.8 649.8,401.2 649.5,400C649.2,398.8 648.2,395.5 648,395C647.8,394.5 648.2,396.7 648,396C647.8,395.3 647.5,389.8 646.7,389.3C645.9,388.8 642.5,391.8 641.3,392C640.0,392.2 637.4,391.7 636.7,390.7C636.0,389.7 636.6,385.5 636,384C635.4,382.5 633.0,380.1 632,378.7C631.0,377.3 628.8,373.9 628,372.7C627.2,371.5 626.8,369.4 626,369.3C625.2,369.2 622.7,371.6 621.3,372C619.9,372.4 616.2,372.2 614.7,372.7C613.2,373.2 610.8,374.8 609.3,376C607.8,377.2 604.4,381.2 602.7,382.7C601.0,384.2 597.6,386.8 596,388C594.4,389.2 590.8,390.3 590,392C589.2,393.7 589.5,399.1 589.3,401.3C589.0,403.5 588.5,407.6 588,409.3C587.5,411.0 586.1,413.6 585.3,414.7C584.5,415.8 582.2,418.0 581.3,418C580.4,418.0 578.8,415.9 578,414.7C577.2,413.4 575.5,409.8 574.7,408C573.9,406.2 572.1,402.0 571.3,400C570.5,398.0 568.8,394.2 568,392C567.2,389.8 565.8,384.9 565.3,382.7C564.8,380.4 564.7,374.9 564,374C563.3,373.1 561.0,375.3 560,375.3C559.0,375.3 557.0,374.8 556,374C555.0,373.2 553.3,370.6 552,369.3C550.7,368.1 546.8,365.2 545.3,364C543.8,362.8 542.2,360.4 540,360C537.8,359.6 530.5,360.5 528,360.7C525.5,360.9 521.7,361.4 520,361.3C518.3,361.2 515.7,360.4 514.7,360C513.7,359.6 512.2,357.9 512,358C511.8,358.1 512.0,359.9 512.7,360.7C513.4,361.5 516.2,363.7 517.3,364.7C518.4,365.7 521.0,367.7 521.3,368.7C521.6,369.7 520.6,371.7 520,372.7C519.4,373.7 517.5,375.5 516.7,376.7C515.9,377.9 514.5,380.8 513.3,382C512.0,383.2 508.5,385.7 506.7,386.7C504.9,387.7 500.4,388.9 498.7,390C497.0,391.1 495.0,394.3 493.3,395.3C491.6,396.3 487.5,397.2 485.3,398C483.1,398.8 478.3,400.6 476,401.3C473.7,402.0 467.7,402.4 466.7,403.3C465.7,404.2 466.8,408.2 468,408.7C469.2,409.2 473.8,407.7 476,407.3C478.2,406.9 483.3,405.7 485.3,405.3C487.3,404.9 491.4,403.4 492,404C492.6,404.6 490.7,408.2 490,410C489.3,411.8 487.8,415.7 486.7,418C485.6,420.3 482.8,426.2 481.3,428.7C479.8,431.2 476.5,436.0 474.7,438C472.9,440.0 468.4,443.2 466.7,444.7C465.0,446.2 462.8,448.5 461.3,450C459.8,451.5 456.1,454.9 455,456.7C453.9,458.5 452.5,462.1 452.5,464.2C452.5,466.3 454.4,471.3 455,473.3C455.6,475.3 457.1,478.1 457.5,480C457.9,481.9 458.3,486.2 458.3,488.3C458.3,490.4 458.3,495.0 457.5,496.7C456.7,498.4 453.5,500.2 451.7,501.7C449.9,503.1 445.0,506.9 443.3,508.3C441.6,509.8 438.6,512.0 438.3,513.3C438.0,514.5 440.5,517.0 440.8,518.3C441.1,519.5 441.5,522.1 440.8,523.3C440.1,524.4 436.2,526.5 435,527.5C433.8,528.5 431.6,530.1 430.8,531.7C430.0,533.3 429.2,538.1 428.3,540C427.4,541.9 424.8,545.0 423.3,546.7C421.9,548.4 418.6,551.9 416.7,553.3C414.8,554.6 411.0,556.9 408.3,557.5C405.6,558.1 397.6,557.9 395,558.3C392.4,558.7 389.2,561.0 387.5,560.8C385.8,560.6 382.3,557.8 381.7,556.7C381.1,555.6 382.9,553.2 382.5,551.7C382.1,550.2 379.4,546.9 378.3,545C377.2,543.1 374.2,539.0 373.3,536.7C372.4,534.4 371.3,529.0 370.8,526.7C370.3,524.4 370.0,520.6 369.2,518.3C368.4,516.0 365.3,510.4 364.2,508.3C363.1,506.2 360.4,503.4 360,501.7C359.6,500.0 360.2,496.7 360.8,495C361.4,493.3 364.2,490.0 365,488.3C365.8,486.6 367.5,483.6 367.5,481.7C367.5,479.8 365.6,475.5 365,473.3C364.4,471.1 363.6,466.5 362.5,464.2C361.4,461.9 357.3,457.0 355.8,455C354.3,453.0 351.2,449.8 350.8,448.3C350.4,446.8 352.1,445.0 352.5,443.3C352.9,441.6 354.5,436.7 354.2,435C353.9,433.3 351.6,430.6 350,430C348.4,429.4 343.4,430.7 341.7,430C340.0,429.3 339.2,424.8 336.7,424.2C334.2,423.6 325.3,424.9 322,425C318.7,425.1 311.5,443.5 310,425C308.5,406.5 308.5,295.5 310,277C311.5,258.5 319.9,277.3 322,277Z M485,484.2C485.9,483.7 487.6,485.3 488.3,486.7C489.0,488.1 490.9,492.9 490.8,495C490.7,497.1 488.2,501.0 487.5,503.3C486.8,505.6 485.7,510.8 485,513.3C484.3,515.8 482.6,521.3 481.7,523.3C480.8,525.3 478.6,528.4 477.5,529.2C476.4,530.0 473.6,530.4 472.5,530C471.4,529.6 469.1,527.3 468.3,525.8C467.5,524.3 465.9,520.1 465.8,518.3C465.7,516.5 467.1,513.4 467.5,511.7C467.9,510.0 469.1,506.5 469.2,505C469.3,503.5 468.0,500.9 468.3,500C468.6,499.1 470.6,498.1 471.7,497.5C472.8,496.9 475.6,495.8 476.7,495C477.8,494.2 479.8,492.2 480.8,490.8C481.8,489.4 484.1,484.7 485,484.2Z M639.1,426.5C639.1,426.0 640.1,425.4 641,425.4C641.9,425.3 645.1,425.7 646.2,426.1C647.3,426.5 649.0,428.0 650,428.8C651.0,429.6 652.9,431.6 653.8,432.5C654.7,433.4 656.6,435.2 657.5,435.9C658.4,436.6 660.4,437.3 661.2,437.8C662.0,438.3 663.5,439.4 664.2,440C665.0,440.6 666.6,442.2 667.2,443C667.8,443.8 668.2,445.2 668.8,446C669.4,446.8 671.1,448.2 671.8,449C672.4,449.8 673.5,451.2 674,452C674.5,452.8 675.7,454.1 675.9,455C676.1,455.9 676.0,458.5 675.9,459.5C675.8,460.5 675.5,462.6 675.1,463.2C674.7,463.8 673.3,464.6 672.5,464.4C671.7,464.2 669.7,462.6 668.8,461.8C667.9,461.0 665.9,458.9 665,458C664.1,457.1 662.8,455.1 662,454.2C661.2,453.3 659.8,451.4 659,450.5C658.2,449.6 656.8,447.6 656,446.8C655.2,446.0 653.6,444.7 653,443.8C652.4,442.9 651.4,440.9 650.8,440C650.1,439.1 648.6,437.9 647.8,437C646.9,436.1 644.9,434.1 644,433.2C643.1,432.3 641.6,430.3 641,429.5C640.4,428.7 639.1,427.0 639.1,426.5Z M685.3,440C685.4,438.9 686.3,438.7 687.3,438C688.3,437.3 691.7,435.4 693.3,434.7C694.9,433.9 698.3,433.0 700,432C701.7,431.0 705.3,428.0 706.7,426.7C708.1,425.4 710.0,421.5 711.3,421.3C712.5,421.1 715.6,424.6 716.7,425.3C717.8,426.0 719.8,426.0 720,426.7C720.2,427.4 718.5,429.5 718,430.7C717.5,431.9 715.8,434.8 716,436C716.2,437.2 719.4,439.2 719.3,440C719.2,440.8 715.9,441.2 715.3,442C714.7,442.8 715.1,445.4 714.7,446.7C714.3,448.0 712.7,451.4 712,452.7C711.3,454.0 710.2,456.6 709.3,457.3C708.4,458.0 705.9,458.2 704.7,458C703.5,457.8 701.2,456.2 700,456C698.8,455.8 696.0,456.4 694.7,456C693.4,455.6 690.3,453.9 689.3,452.7C688.3,451.5 687.2,448.3 686.7,446.7C686.2,445.1 685.2,441.1 685.3,440Z M757.3,447.3C757.7,446.7 761.4,445.5 762.7,445.3C764.0,445.1 767.1,445.4 768,446C768.9,446.6 769.3,449.1 770,450C770.7,450.9 772.2,453.3 773.3,453.3C774.4,453.3 777.0,450.2 778.7,450C780.4,449.8 784.7,450.9 786.7,451.3C788.7,451.7 792.7,452.6 794.7,453.3C796.7,454.0 801.0,455.8 802.7,456.7C804.4,457.6 806.8,459.8 808,460.7C809.2,461.6 811.0,463.2 812,464C813.0,464.8 815.2,465.9 816,466.7C816.8,467.5 817.9,469.6 818.7,470.7C819.5,471.8 821.9,474.3 822.7,475.3C823.5,476.3 825.5,478.1 825.3,478.7C825.1,479.3 822.5,480.2 821.3,480C820.1,479.8 817.2,477.5 816,476.7C814.8,475.9 813.2,474.1 812,473.3C810.8,472.6 808.0,470.8 806.7,470.7C805.4,470.6 802.5,472.1 801.3,472.7C800.1,473.3 798.3,475.1 797.3,475.3C796.3,475.6 794.6,475.1 793.3,474.7C792.0,474.3 788.2,472.2 786.7,472C785.2,471.8 781.6,473.2 781.3,472.7C781.0,472.2 784.0,469.2 784,468C784.0,466.8 782.3,464.3 781.3,463.3C780.3,462.3 777.2,460.9 776,460C774.8,459.1 773.2,456.2 772,456C770.8,455.8 767.8,458.1 766.7,458C765.6,457.9 763.8,456.1 763.3,455.3C762.8,454.6 763.2,452.7 762.7,452C762.2,451.3 760.0,450.6 759.3,450C758.6,449.4 756.9,447.9 757.3,447.3Z M700,524.7C700.2,523.0 700.8,518.7 702,517.3C703.2,515.9 707.2,514.3 709.3,513.3C711.4,512.3 716.7,510.1 718.7,509.3C720.7,508.5 724.0,507.5 725.3,506.7C726.6,505.9 728.3,503.7 729.3,502.7C730.3,501.7 732.3,499.9 733.3,498.7C734.3,497.5 736.0,494.3 737.3,493.3C738.6,492.3 742.5,490.9 744,490.7C745.5,490.5 748.1,491.7 749.3,492C750.5,492.3 752.5,493.8 753.3,493.3C754.1,492.8 755.2,489.2 756,488C756.8,486.8 759.0,484.1 760,483.3C761.0,482.5 762.7,481.3 764,481.3C765.3,481.3 768.9,483.0 770.7,483.3C772.5,483.6 777.9,483.2 778.7,484C779.5,484.8 777.7,488.3 777.3,489.3C776.9,490.3 774.8,491.2 775.3,492C775.8,492.8 779.5,494.8 781.3,496C783.0,497.2 787.8,502.0 789.3,502C790.8,502.0 792.7,497.8 793.3,496C793.9,494.2 793.7,489.8 794,488C794.3,486.2 795.5,482.4 796,481.3C796.5,480.2 797.5,479.1 798,479.3C798.5,479.5 799.4,481.3 800,482.7C800.6,484.1 801.9,489.4 802.7,490.7C803.5,492.0 806.0,492.0 806.7,493.3C807.5,494.6 807.9,499.6 808.7,501.3C809.5,503.0 812.0,505.2 813.3,506.7C814.5,508.2 817.4,511.8 818.7,513.3C820.0,514.8 822.8,517.5 824,518.7C825.2,519.9 827.0,521.5 828,522.7C829.0,524.0 831.2,527.2 832,528.7C832.8,530.2 833.7,533.1 834,534.7C834.3,536.3 834.7,540.5 834.7,541.3C834.7,542.1 834.3,540.5 834,541.3C833.7,542.1 832.7,546.3 832,548C831.3,549.7 829.5,553.2 828.7,554.7C827.9,556.2 826.1,558.5 825.3,560C824.5,561.5 822.7,565.4 822,566.7C821.3,568.0 820.9,570.0 820,570.7C819.1,571.5 816.0,572.3 814.7,572.7C813.4,573.1 810.6,574.1 809.3,574C808.0,573.9 805.2,572.1 804,572C802.8,571.9 801.0,573.2 800,573.3C799.0,573.4 797.3,573.2 796,572.7C794.7,572.2 790.5,570.2 789.3,569.3C788.1,568.4 787.6,566.1 786.7,565.3C785.8,564.5 783.0,563.2 782,562.7C781.0,562.2 778.9,561.9 778.7,561.3C778.5,560.7 780.6,558.6 780.7,558C780.8,557.4 779.6,556.5 779.3,556.7C779.0,556.9 778.6,558.9 778,559.3C777.4,559.7 775.5,560.3 774.7,560C774.0,559.7 772.8,557.6 772,556.7C771.2,555.8 769.2,553.5 768,552.7C766.8,552.0 764.4,551.0 762.7,550.7C761.0,550.4 756.7,550.3 754.7,550.4C752.7,550.5 748.7,550.8 746.7,551.3C744.7,551.8 740.2,553.2 738.7,554C737.2,554.8 736.2,556.8 734.7,557.3C733.2,557.8 728.5,557.8 726.7,558C724.9,558.2 721.7,558.9 720,559.3C718.3,559.7 714.8,561.2 713.3,561.3C711.8,561.4 709.0,560.5 708,560C707.0,559.5 705.4,558.3 705.3,557.3C705.2,556.3 707.3,553.5 707.3,552C707.3,550.5 705.8,547.0 705.3,545.3C704.8,543.6 704.0,540.5 703.3,538.7C702.6,536.9 700.4,532.5 700,530.7C699.6,529.0 699.8,526.4 700,524.7Z M966.7,215.8C967.5,214.8 975.8,211.1 980,210C984.2,208.9 995.8,207.0 1000,206.7C1004.2,206.4 1009.5,207.2 1013.3,207.5C1017.0,207.8 1025.8,208.4 1030,208.7C1034.2,209.0 1042.1,209.4 1046.7,210C1051.3,210.6 1062.5,213.1 1066.7,213.3C1070.9,213.5 1076.2,212.1 1080,211.7C1083.8,211.2 1093.0,209.7 1096.7,209.7C1100.5,209.7 1108.7,211.5 1110,211.7C1111.3,211.9 1106.8,211.1 1107.3,211.1C1107.8,211.1 1111.8,211.4 1114,211.7C1116.2,212.0 1122.2,213.1 1124.7,213.5C1127.2,213.9 1132.0,214.5 1134,214.8C1136.0,215.1 1139.5,215.6 1140.7,215.9C1141.9,216.2 1141.0,217.2 1143.3,217.3C1145.6,217.4 1156.6,217.1 1159.3,216.7C1162.0,216.3 1162.7,214.2 1164.7,214C1166.7,213.8 1172.6,214.9 1175.3,215.3C1178.0,215.7 1184.2,217.0 1186,217.3C1187.8,217.6 1187.9,217.5 1190,217.5C1192.1,217.5 1201.0,217.4 1203,217C1205.0,216.6 1206.0,215.0 1206,214C1206.0,213.0 1203.5,210.2 1203,209C1202.5,207.8 1202.0,205.4 1202,204C1202.0,202.6 1202.0,198.9 1203,198C1204.0,197.1 1207.9,197.1 1210,197C1212.1,196.9 1219.5,196.7 1220,197C1220.5,197.3 1215.1,198.9 1214,199.5C1212.9,200.1 1211.2,200.8 1211,201.5C1210.8,202.2 1211.5,204.1 1212,205C1212.5,205.9 1214.0,208.2 1215,209C1216.0,209.8 1218.6,210.3 1220,211C1221.4,211.7 1224.8,213.6 1226,214.5C1227.2,215.4 1229.0,218.7 1230,218.5C1231.0,218.3 1234.2,214.1 1234,213C1233.8,211.9 1229.2,210.6 1228,210C1226.8,209.4 1224.8,209.1 1224,208.5C1223.2,207.9 1221.8,205.9 1221.5,205C1221.2,204.1 1221.4,202.2 1222,201.5C1222.6,200.8 1224.8,199.9 1226,199.5C1227.2,199.1 1230.2,198.6 1232,198.5C1233.8,198.4 1238.2,199.1 1240,199C1241.8,198.9 1244.3,198.0 1246,198C1247.7,198.0 1251.5,198.7 1253.3,198.7C1255.0,198.7 1258.4,198.0 1260,198C1261.6,198.0 1264.8,198.5 1266,199C1267.2,199.5 1268.7,201.0 1270,201.7C1271.3,202.4 1274.9,203.7 1276.7,204.3C1278.5,204.9 1282.5,206.2 1284.7,206.7C1286.9,207.2 1292.2,207.7 1294,208.3C1295.8,208.9 1298.0,210.6 1298.7,211.3C1299.4,212.0 1299.5,213.2 1299.3,213.7C1299.0,214.2 1296.4,214.9 1296.7,215.3C1297.0,215.7 1300.7,216.4 1302,216.7C1303.3,217.0 1306.0,217.6 1307.3,218C1308.5,218.4 1310.8,219.9 1312,220.3C1313.2,220.7 1316.3,220.4 1316.7,221C1317.1,221.6 1316.1,223.9 1315.3,224.7C1314.5,225.5 1311.2,227.5 1310,227.7C1308.8,227.9 1306.5,226.5 1305.3,226C1304.1,225.5 1301.8,224.2 1300.7,224C1299.6,223.8 1296.7,223.7 1296.7,224C1296.7,224.3 1299.6,225.7 1300.7,226.3C1301.8,226.9 1304.4,228.2 1305.3,229C1306.2,229.8 1307.6,231.9 1307.7,232.7C1307.8,233.5 1306.7,235.0 1306,235.3C1305.3,235.6 1302.4,234.8 1302,235C1301.6,235.2 1303.1,237.1 1302.7,237.3C1302.3,237.5 1299.8,236.9 1298.7,236.7C1297.6,236.5 1295.2,236.1 1294,236C1292.8,235.9 1289.9,236.0 1288.7,235.7C1287.5,235.4 1285.7,233.9 1284.7,233.3C1283.7,232.8 1281.7,231.7 1280.7,231.3C1279.7,230.9 1277.7,230.2 1276.7,230C1275.7,229.8 1273.9,229.7 1272.7,229.7C1271.5,229.7 1268.5,230.0 1267.3,230C1266.0,230.0 1263.5,230.2 1262.7,230C1261.9,229.8 1260.7,228.8 1260.7,228.3C1260.7,227.8 1261.9,226.6 1262.7,226.3C1263.5,226.0 1266.4,226.2 1267.3,226C1268.2,225.8 1269.0,225.2 1270,225C1271.0,224.8 1274.1,224.7 1275.3,224C1276.5,223.3 1279.2,220.1 1279.3,219.3C1279.4,218.5 1277.0,217.7 1276,217.3C1275.0,216.9 1272.5,216.6 1271.3,216.3C1270.1,216.0 1267.7,215.1 1266.7,214.7C1265.7,214.2 1264.3,213.1 1263.3,212.7C1262.3,212.3 1260.0,211.3 1258.7,211.3C1257.4,211.3 1253.5,212.3 1252.7,213C1251.9,213.7 1252.0,215.8 1252,216.7C1252.0,217.6 1253.0,219.5 1252.7,220C1252.5,220.5 1251.2,220.8 1250,221C1248.8,221.2 1244.6,221.0 1243.3,221.3C1242.0,221.6 1240.1,222.9 1239.3,223.3C1238.5,223.7 1237.5,224.1 1236.7,224.7C1236.0,225.3 1234.1,227.3 1233.3,228C1232.5,228.7 1230.9,229.6 1230,230C1229.1,230.4 1227.2,230.6 1226,231C1224.8,231.4 1221.5,232.2 1220,233C1218.5,233.8 1215.4,235.9 1214,237C1212.6,238.1 1209.8,240.9 1209,242C1208.2,243.1 1207.5,245.1 1208,246C1208.5,246.9 1212.1,248.2 1213,249C1213.9,249.8 1213.9,251.4 1215,252C1216.1,252.6 1220.1,253.0 1222,253.5C1223.9,254.0 1228.0,255.4 1230,256C1232.0,256.6 1236.0,257.6 1238,258C1240.0,258.4 1244.6,259.1 1246,259.5C1247.4,259.9 1248.6,260.3 1249,261C1249.4,261.7 1249.1,264.0 1249.5,265C1249.9,266.0 1251.1,268.1 1252,269C1252.9,269.9 1255.6,272.5 1256.5,272.5C1257.4,272.5 1258.8,269.9 1259,269C1259.2,268.1 1258.6,265.5 1258.5,265C1258.4,264.5 1258.3,265.5 1258,265.3C1257.7,265.1 1256.2,263.8 1256,263.3C1255.8,262.8 1256.1,261.8 1256.7,261.3C1257.3,260.8 1259.7,259.8 1260.7,259.3C1261.7,258.8 1263.9,257.9 1264.7,257.3C1265.5,256.7 1267.1,255.3 1267.3,254.7C1267.5,254.1 1266.5,253.3 1266,252.7C1265.5,252.1 1263.9,250.7 1263.3,250C1262.7,249.3 1261.2,248.1 1261.3,247.3C1261.4,246.5 1263.8,244.3 1264,243.3C1264.2,242.3 1263.0,240.2 1262.7,239.3C1262.5,238.4 1261.4,236.5 1262,236C1262.6,235.5 1266.0,235.3 1267.3,235.3C1268.6,235.3 1271.5,235.7 1272.7,235.7C1273.9,235.7 1275.7,235.2 1276.7,235.3C1277.7,235.4 1279.7,236.2 1280.7,236.7C1281.7,237.2 1283.5,238.6 1284.7,239C1285.9,239.4 1289.1,239.5 1290,240C1290.9,240.5 1291.4,241.9 1291.7,242.7C1292.0,243.4 1292.0,245.2 1292.7,246C1293.4,246.8 1296.1,248.9 1297.3,249C1298.5,249.1 1301.1,247.3 1302,246.7C1302.9,246.1 1304.0,244.5 1304.7,244C1305.4,243.5 1306.5,242.4 1307.3,242.7C1308.1,243.0 1310.3,245.7 1311.3,246.7C1312.3,247.7 1314.4,249.8 1315.3,250.7C1316.2,251.6 1318.2,253.3 1318.7,254C1319.2,254.7 1318.5,255.3 1319.3,256C1320.0,256.7 1323.5,258.6 1324.7,259.3C1325.9,260.0 1327.7,260.8 1328.7,261.3C1329.7,261.8 1331.7,262.7 1332.7,263.3C1333.7,263.9 1336.0,265.2 1336.7,266C1337.4,266.8 1337.8,269.4 1338,270C1338.2,270.6 1337.9,270.4 1338,270.7C1338.1,271.0 1338.9,271.7 1338.7,272.3C1338.5,272.9 1336.7,274.6 1336.7,275.3C1336.7,276.0 1337.9,277.6 1338.7,278C1339.5,278.4 1342.4,278.4 1343.3,278.7C1344.2,279.0 1345.5,280.1 1346,280.7C1346.5,281.3 1347.0,282.6 1347.3,283.3C1347.5,284.0 1348.0,285.6 1348,286.3C1348.0,287.0 1347.9,288.4 1347.3,288.7C1346.7,289.0 1344.0,289.2 1343.3,289C1342.6,288.8 1342.6,286.9 1342,286.7C1341.4,286.5 1339.5,287.5 1338.7,287.7C1338.0,287.9 1336.2,288.3 1336,288C1335.8,287.7 1337.5,285.6 1336.7,285.3C1336.0,285.0 1331.5,285.3 1330,285.3C1328.5,285.3 1325.5,285.2 1324.7,285C1324.0,284.8 1323.8,284.5 1324,284C1324.2,283.5 1325.4,282.1 1326,281.3C1326.6,280.5 1328.1,278.1 1328.7,277.3C1329.3,276.5 1330.3,275.2 1330.7,274.7C1331.1,274.2 1332.5,273.0 1332,273C1331.5,273.0 1328.0,274.3 1326.7,274.7C1325.5,275.1 1323.2,276.0 1322,276.3C1320.8,276.6 1318.0,277.2 1316.7,277.3C1315.5,277.4 1313.1,277.3 1312,277.3C1310.9,277.3 1309.1,277.0 1308,277C1306.9,277.0 1304.3,276.9 1303.3,277C1302.3,277.1 1300.9,277.6 1300,278C1299.1,278.4 1296.8,279.5 1296,280C1295.2,280.5 1293.9,281.6 1293.3,282C1292.7,282.4 1291.1,283.2 1291.3,283.3C1291.5,283.4 1293.8,283.0 1294.7,282.7C1295.6,282.4 1297.6,281.3 1298.7,281C1299.8,280.7 1302.3,280.1 1303.3,280C1304.3,279.9 1306.0,280.1 1306.7,280.3C1307.4,280.6 1308.6,281.5 1308.7,282C1308.8,282.5 1307.5,283.5 1307.3,284C1307.0,284.5 1306.5,285.6 1306.7,286C1307.0,286.4 1308.5,287.0 1309.3,287.3C1310.0,287.6 1311.9,288.4 1312.7,288.7C1313.5,289.0 1315.3,289.9 1316,290C1316.7,290.1 1317.5,289.6 1318,289.3C1318.5,289.0 1319.6,287.6 1320,287.3C1320.4,287.0 1321.0,286.8 1321.3,287C1321.5,287.2 1321.7,288.8 1322,289.3C1322.3,289.8 1324.0,290.3 1324,290.7C1324.0,291.1 1322.7,292.3 1322,292.7C1321.3,293.1 1319.6,293.7 1318.7,294C1317.8,294.3 1315.7,295.0 1314.7,295.3C1313.7,295.6 1311.7,296.3 1310.7,296.7C1309.7,297.1 1307.5,298.3 1306.7,298.7C1305.9,299.1 1304.6,299.8 1304,299.7C1303.4,299.6 1302.2,298.5 1302,298C1301.8,297.5 1301.9,296.4 1302,296C1302.1,295.6 1303.0,294.8 1302.7,294.7C1302.5,294.6 1300.8,295.1 1300,295.3C1299.2,295.6 1297.1,296.2 1296,296.7C1294.9,297.2 1292.3,298.7 1291.3,299.3C1290.3,299.9 1288.5,300.9 1288,301.3C1287.5,301.7 1287.1,302.4 1287.3,302.7C1287.5,302.9 1289.0,303.1 1289.3,303.3C1289.6,303.6 1290.3,304.3 1290,304.7C1289.7,305.1 1287.6,306.3 1286.7,306.7C1285.8,307.1 1283.7,307.6 1282.7,308C1281.7,308.4 1279.5,309.4 1278.7,310C1277.9,310.6 1276.7,311.9 1276,312.7C1275.3,313.5 1274.0,315.7 1273.3,316.7C1272.6,317.7 1271.1,319.7 1270.7,320.7C1270.3,321.7 1270.2,323.9 1270,324.7C1269.8,325.5 1269.1,326.6 1268.7,327.3C1268.3,328.0 1267.8,329.3 1266.7,330C1265.6,330.7 1261.5,331.8 1260,332.7C1258.5,333.6 1255.7,336.1 1254.7,337.3C1253.7,338.5 1252.2,340.8 1252,342C1251.8,343.2 1252.4,346.0 1252.7,347.3C1253.0,348.6 1254.3,351.5 1254.7,352.7C1255.1,353.9 1256.0,355.8 1256,356.7C1256.0,357.6 1255.2,359.7 1254.7,360C1254.2,360.3 1252.8,359.9 1252,359.3C1251.2,358.7 1249.5,356.5 1248.7,355.3C1248.0,354.1 1246.6,351.1 1246,350C1245.4,348.9 1244.8,347.3 1244,346.7C1243.2,346.1 1241.3,345.4 1240,345.3C1238.7,345.2 1235.0,346.2 1233.3,346C1231.6,345.8 1227.7,343.8 1226.7,344C1225.7,344.2 1226.1,346.9 1225.3,347.3C1224.5,347.7 1221.5,347.5 1220,347.3C1218.5,347.1 1215.0,346.1 1213.3,346C1211.6,345.9 1208.2,346.1 1206.7,346.7C1205.2,347.3 1202.2,349.6 1201.3,350.7C1200.4,351.8 1199.5,354.1 1199.3,355.3C1199.0,356.6 1199.5,359.4 1199.3,360.7C1199.1,362.0 1198.2,364.7 1198,366C1197.8,367.3 1197.6,370.0 1198,371.3C1198.4,372.6 1200.4,375.5 1201.3,376.7C1202.2,377.9 1204.3,380.0 1205.3,380.7C1206.3,381.4 1208.1,382.0 1209.3,382C1210.5,382.0 1213.5,381.1 1214.7,380.7C1216.0,380.3 1218.5,379.5 1219.3,378.7C1220.1,377.9 1220.5,374.8 1221.3,374C1222.0,373.2 1224.0,372.2 1225.3,372C1226.6,371.8 1231.0,371.6 1232,372C1233.0,372.4 1233.3,374.2 1233.3,375.3C1233.3,376.4 1232.4,379.4 1232,380.7C1231.6,382.0 1230.4,384.8 1230,386C1229.6,387.2 1228.2,389.4 1228.7,390C1229.2,390.6 1232.6,390.9 1233.8,391C1235.0,391.1 1237.2,390.4 1238.3,390.5C1239.4,390.6 1242.0,391.4 1242.9,391.9C1243.8,392.4 1245.4,393.5 1245.7,394.2C1246.0,394.9 1245.8,396.8 1245.7,397.8C1245.6,398.8 1245.0,401.4 1244.8,402.4C1244.6,403.4 1244.1,405.2 1244.3,406.1C1244.5,407.0 1245.6,408.6 1246.1,409.3C1246.6,410.0 1247.7,411.4 1248.4,412C1249.1,412.6 1250.8,413.7 1251.6,413.9C1252.4,414.1 1254.0,413.6 1254.8,413.4C1255.6,413.2 1257.3,412.4 1258.1,412.3C1258.9,412.2 1260.6,412.8 1261.3,413C1262.0,413.2 1263.0,414.1 1263.6,414.3C1264.2,414.6 1265.2,415.1 1265.8,415C1266.4,414.9 1268.0,413.9 1268.6,413.4C1269.2,412.9 1270.1,411.3 1270.4,410.7C1270.7,410.1 1270.7,408.9 1271.3,408.4C1271.9,407.9 1274.0,406.9 1275,406.5C1276.0,406.1 1278.2,405.6 1279.1,405.2C1280.0,404.8 1281.7,403.7 1282.3,403.3C1282.9,402.9 1283.7,402.2 1284.2,402.2C1284.7,402.2 1285.8,402.9 1286,403.3C1286.2,403.7 1285.4,405.4 1285.6,405.6C1285.8,405.8 1287.5,405.5 1287.9,405.2C1288.4,404.9 1288.8,403.4 1289.2,403.3C1289.6,403.2 1290.6,403.9 1291.1,404.3C1291.6,404.7 1292.8,405.6 1293.4,406.1C1294.0,406.6 1295.3,408.1 1296.1,408.4C1296.9,408.7 1298.6,408.8 1300,408.8C1301.4,408.8 1305.0,408.9 1307.3,408.7C1309.5,408.5 1316.3,407.1 1318,407.3C1319.7,407.5 1320.5,409.3 1320.7,410C1320.9,410.7 1319.0,411.9 1319.3,412.7C1319.6,413.4 1322.1,415.0 1323.3,416C1324.5,417.0 1327.2,419.7 1328.7,420.7C1330.2,421.7 1333.5,423.5 1335.3,424C1337.1,424.5 1341.5,424.2 1343.3,424.7C1345.1,425.2 1348.7,426.9 1350,428C1351.3,429.1 1353.2,432.0 1354,433.3C1354.8,434.6 1355.7,437.5 1356,438.7C1356.3,439.9 1355.8,441.8 1356.7,442.7C1357.6,443.6 1361.5,445.2 1363.3,446C1365.1,446.8 1369.6,447.9 1371.3,448.7C1373.0,449.4 1374.7,451.4 1376.7,452C1378.7,452.6 1385.1,452.8 1387.3,453.3C1389.5,453.8 1392.3,455.1 1394,456C1395.7,456.9 1399.2,459.9 1400.7,460.7C1402.2,461.5 1405.2,461.8 1406,462.7C1406.8,463.6 1407.3,466.6 1407.3,468C1407.3,469.4 1406.7,472.5 1406,474C1405.3,475.5 1403.2,478.4 1402,480C1400.8,481.6 1397.7,485.2 1396.7,486.7C1395.7,488.2 1394.4,490.3 1394,492C1393.6,493.7 1393.6,498.0 1393.3,500C1393.0,502.0 1392.0,506.2 1391.3,508C1390.5,509.8 1388.3,513.3 1387.3,514.7C1386.3,516.1 1384.6,518.3 1383.3,519.3C1382.0,520.3 1378.5,521.8 1376.7,522.7C1374.9,523.6 1370.4,525.6 1368.7,526.7C1367.0,527.8 1364.2,530.0 1363.3,531.3C1362.4,532.6 1362.0,535.7 1361.3,537.3C1360.6,538.9 1359.1,542.7 1358,544C1356.9,545.3 1354.0,546.7 1352.7,548C1351.4,549.3 1348.6,553.1 1347.3,554.7C1346.0,556.3 1343.5,560.0 1342,560.7C1340.5,561.4 1336.5,559.8 1335.3,560C1334.0,560.2 1332.2,561.2 1332,562C1331.8,562.8 1333.5,565.5 1333.3,566.7C1333.0,567.9 1331.2,570.5 1330,571.3C1328.8,572.1 1325.0,572.8 1323.3,573.3C1321.6,573.8 1317.7,574.5 1316.7,575.3C1315.7,576.1 1316.3,579.3 1315.3,580C1314.3,580.7 1309.7,580.2 1308.7,580.7C1307.7,581.2 1307.0,583.3 1307.3,584C1307.6,584.7 1311.3,585.3 1311.3,586C1311.3,586.7 1308.1,588.3 1307.3,589.3C1306.5,590.3 1305.6,593.2 1304.7,594C1303.8,594.8 1300.7,595.3 1300,596C1299.3,596.7 1298.8,598.7 1299.3,599.3C1299.8,599.9 1303.5,600.2 1304,600.7C1304.5,601.2 1304.0,602.4 1303.3,603.3C1302.5,604.2 1299.3,606.8 1298,608C1296.7,609.2 1293.2,611.7 1292.7,612.7C1292.2,613.7 1293.5,614.9 1294,616C1294.5,617.1 1295.9,620.2 1296.7,621.3C1297.5,622.4 1299.5,624.0 1300.7,624.7C1301.9,625.4 1305.8,626.2 1306,626.7C1306.2,627.2 1303.3,628.3 1302,628.7C1300.7,629.1 1297.0,629.6 1295.3,629.6C1293.6,629.6 1290.4,629.2 1288.7,628.7C1287.0,628.2 1283.7,626.9 1282,626C1280.3,625.1 1276.5,622.5 1275.3,621.3C1274.0,620.0 1272.7,617.7 1272,616C1271.3,614.3 1270.2,610.0 1270,608C1269.8,606.0 1270.2,601.5 1270.7,600C1271.2,598.5 1273.2,597.2 1274,596C1274.8,594.8 1276.3,592.0 1276.7,590.7C1277.1,589.5 1277.4,586.8 1277.3,586C1277.2,585.2 1276.0,585.4 1276,584C1276.0,582.6 1277.0,576.9 1277.3,574.7C1277.6,572.5 1278.2,568.9 1278.7,566.7C1279.2,564.5 1280.7,559.6 1281.3,557.3C1281.9,555.0 1282.9,550.2 1283.3,548C1283.7,545.8 1284.5,541.3 1284.7,540C1285.0,538.7 1285.0,538.8 1285.3,537.3C1285.5,535.8 1286.4,530.2 1286.7,528C1287.0,525.8 1287.8,522.0 1288,520C1288.2,518.0 1288.8,513.8 1288.7,512C1288.6,510.2 1288.0,506.6 1287.3,505.3C1286.6,504.1 1284.6,502.8 1283.3,502C1282.0,501.2 1278.4,499.8 1276.7,498.7C1275.0,497.6 1271.2,494.5 1270,493.3C1268.8,492.1 1268.2,491.0 1267.3,489.3C1266.4,487.6 1263.8,482.2 1262.7,480C1261.6,477.8 1259.7,473.7 1258.7,472C1257.7,470.3 1255.6,467.9 1254.7,466.7C1253.8,465.5 1251.6,463.8 1251.3,462.7C1251.0,461.6 1251.5,459.1 1252,458C1252.5,456.9 1255.1,454.8 1255.3,454C1255.5,453.2 1253.5,452.9 1253.3,452C1253.1,451.1 1253.7,448.0 1254,446.7C1254.3,445.4 1255.3,442.5 1256,441.3C1256.7,440.1 1259.2,438.1 1259.9,437.3C1260.6,436.5 1260.8,435.6 1261.3,435C1261.8,434.4 1263.6,432.9 1264,432.2C1264.4,431.4 1264.1,430.0 1264.2,429C1264.3,428.0 1264.6,425.4 1264.5,424.4C1264.4,423.4 1264.0,422.0 1263.6,421.2C1263.2,420.4 1261.7,418.7 1261.3,418C1260.9,417.3 1260.6,416.1 1260.3,415.7C1260.0,415.3 1259.1,414.8 1258.5,415C1257.9,415.2 1256.0,416.6 1255.8,417.1C1255.6,417.6 1256.8,418.5 1256.7,418.9C1256.6,419.3 1255.8,420.1 1255.3,420.3C1254.8,420.5 1253.7,420.7 1253,420.5C1252.3,420.3 1250.6,418.9 1249.8,418.5C1249.0,418.1 1247.3,417.8 1246.6,417.6C1245.8,417.4 1244.3,417.0 1243.8,416.6C1243.3,416.2 1243.2,414.8 1242.5,414.3C1241.8,413.8 1239.1,413.0 1238.3,412.5C1237.5,412.0 1236.6,410.9 1236.3,410.2C1236.0,409.4 1236.0,407.3 1235.6,406.5C1235.2,405.7 1233.6,404.5 1232.8,403.8C1232.0,403.1 1230.2,401.6 1229.2,401C1228.2,400.4 1225.8,399.6 1224.6,399.2C1223.4,398.8 1221.1,398.1 1220,397.8C1218.9,397.5 1217.0,397.3 1216,396.7C1215.0,396.1 1213.0,393.4 1212,392.7C1211.0,391.9 1209.2,390.8 1208,390.7C1206.8,390.6 1204.2,391.8 1202.7,392C1201.2,392.2 1197.8,392.3 1196,392C1194.2,391.7 1189.8,390.1 1188,389.3C1186.2,388.6 1182.8,386.8 1181.3,386C1179.8,385.2 1177.2,384.1 1176,383.3C1174.8,382.5 1172.8,380.2 1172,379.3C1171.2,378.4 1170.2,377.2 1170,376.5C1169.8,375.8 1170.9,374.3 1170.8,373.5C1170.7,372.7 1170.0,370.9 1169.5,370C1169.0,369.1 1167.3,366.9 1166.5,366C1165.7,365.1 1163.8,363.3 1163,362.5C1162.2,361.7 1160.7,360.1 1160,359.5C1159.3,358.9 1157.9,358.0 1157.5,357.5C1157.1,357.0 1157.4,356.1 1157,355.5C1156.6,354.9 1154.8,353.2 1154,352.5C1153.2,351.8 1151.8,350.8 1151,350C1150.2,349.2 1148.7,347.4 1148,346.5C1147.3,345.6 1146.0,343.8 1145.5,343C1145.0,342.2 1144.7,340.5 1144,340C1143.3,339.5 1140.6,339.0 1140.2,339.2C1139.8,339.4 1140.6,340.9 1140.8,341.5C1141.0,342.1 1141.5,343.4 1142,344C1142.5,344.6 1143.9,345.8 1144.5,346.5C1145.1,347.2 1146.4,348.8 1147,349.5C1147.6,350.2 1148.9,351.8 1149.5,352.5C1150.1,353.2 1151.1,354.3 1151.5,355C1151.9,355.7 1152.6,357.2 1153,358C1153.4,358.8 1154.5,360.8 1155,361.5C1155.5,362.2 1156.5,363.3 1157,364C1157.5,364.7 1158.8,366.2 1158.8,366.8C1158.8,367.4 1157.4,368.6 1157,368.8C1156.6,369.0 1155.8,368.9 1155.5,368.5C1155.2,368.1 1154.9,366.6 1154.5,366C1154.1,365.4 1152.8,364.1 1152,363.5C1151.2,362.9 1148.9,362.0 1148.5,361.5C1148.1,361.0 1148.7,360.1 1148.5,359.5C1148.3,358.9 1147.8,357.6 1147,357C1146.2,356.4 1143.4,355.5 1142.5,355C1141.6,354.5 1139.9,353.5 1139.5,353C1139.1,352.5 1138.8,351.6 1139,351.2C1139.2,350.8 1141.2,350.3 1141.5,350C1141.8,349.7 1141.5,349.1 1141,348.5C1140.5,347.9 1138.2,346.4 1137.5,345.5C1136.8,344.6 1135.6,342.6 1135,341.5C1134.4,340.4 1133.1,338.1 1132.5,337C1131.9,335.9 1130.9,333.8 1130,333C1129.1,332.2 1126.2,331.0 1125,330.5C1123.8,330.0 1121.0,329.7 1120,329C1119.0,328.3 1118.1,326.1 1117.3,324.7C1116.5,323.3 1114.2,319.7 1113.3,318C1112.4,316.3 1110.8,313.1 1110,311.3C1109.2,309.5 1107.6,305.1 1107.3,303.3C1107.0,301.5 1107.2,298.7 1107.3,296.7C1107.4,294.7 1108.2,289.6 1108,287.3C1107.8,285.0 1106.6,279.1 1106,278C1105.4,276.9 1104.5,278.7 1103.3,278.3C1102.1,277.9 1097.8,275.8 1096.7,275C1095.6,274.2 1095.2,272.9 1094.2,271.7C1093.2,270.4 1089.8,266.6 1088.3,265C1086.8,263.4 1084.0,260.4 1082.5,259.2C1081.0,257.9 1078.5,256.1 1076.7,255C1074.9,253.9 1070.4,251.7 1068.3,250.8C1066.2,249.9 1062.3,248.2 1060,247.5C1057.7,246.8 1052.5,245.4 1050,245C1047.5,244.6 1042.5,244.5 1040,244.2C1037.5,243.9 1032.1,242.5 1030,242.5C1027.9,242.5 1024.9,243.7 1023.3,244.2C1021.7,244.7 1018.4,246.7 1017.5,246.7C1016.6,246.7 1016.2,243.8 1015.8,244.2C1015.4,244.6 1015.1,248.7 1014.3,250C1013.5,251.3 1011.3,253.3 1009.7,254.3C1008.1,255.3 1003.6,257.3 1001.3,258.3C999.0,259.3 993.8,261.2 991.3,262C988.8,262.8 983.7,264.4 981.3,264.7C978.9,265.0 972.5,265.3 972,264.7C971.5,264.1 975.5,261.2 977.2,260.2C978.9,259.1 983.2,257.4 985.5,256.3C987.8,255.2 993.2,252.7 995.5,251.7C997.8,250.7 1003.2,248.6 1003.8,248C1004.4,247.4 1001.3,246.8 1000,246.7C998.7,246.6 995.2,247.3 993.3,247.5C991.4,247.7 986.7,248.5 985,248.3C983.3,248.1 981.5,246.4 980,245.8C978.5,245.2 974.6,244.0 973.3,243.3C971.9,242.6 969.4,240.9 969.2,240C969.0,239.1 970.6,236.6 971.7,235.8C972.8,235.0 976.6,233.9 978.3,233.3C980.0,232.7 985.0,231.2 985,230.8C985.0,230.4 980.2,230.2 978.3,230C976.4,229.8 972.0,229.6 970,229.2C968.0,228.8 963.3,227.2 962.5,226.7C961.7,226.2 961.9,225.5 963.3,225C964.6,224.5 971.2,222.9 973.3,222.5C975.4,222.1 980.0,222.2 980,221.7C980.0,221.2 975.0,219.0 973.3,218.3C971.6,217.6 965.9,216.8 966.7,215.8Z M1106,196C1107.5,195.3 1113.7,195.2 1116.7,195.3C1119.7,195.4 1126.7,195.8 1130,196.4C1133.3,197.0 1140.5,199.5 1143.3,200C1146.1,200.5 1150.4,200.7 1152.7,200.7C1155.0,200.7 1160.2,200.3 1162,200C1163.8,199.7 1165.8,198.2 1167.3,198C1168.8,197.8 1173.3,198.1 1174,198.7C1174.7,199.3 1172.4,201.6 1172.7,202.7C1173.0,203.8 1175.4,206.4 1176.7,207.3C1178.0,208.2 1182.1,209.3 1183.3,210C1184.5,210.7 1186.3,212.2 1186,212.7C1185.7,213.2 1182.7,213.9 1180.7,214C1178.7,214.1 1172.7,213.6 1170,213.7C1167.3,213.8 1162.0,214.5 1159.3,214.7C1156.6,214.9 1150.9,215.2 1148.7,215.1C1146.5,215.0 1143.8,214.6 1142,214C1140.2,213.4 1135.7,211.7 1134,210.7C1132.3,209.7 1129.9,206.9 1128.7,206C1127.5,205.1 1125.5,203.5 1124.7,203.3C1123.9,203.1 1123.3,204.2 1122,204.7C1120.7,205.2 1115.8,207.1 1114,207.3C1112.2,207.5 1108.6,206.3 1107.3,206C1106.0,205.7 1103.6,205.4 1103.3,204.7C1103.0,204.0 1104.4,201.8 1104.7,200.7C1105.0,199.6 1104.5,196.7 1106,196Z M1200.7,175.3C1201.2,174.6 1204.0,173.1 1206,172.7C1208.0,172.3 1215.2,172.3 1216.7,172C1218.2,171.7 1216.3,170.5 1218,170C1219.7,169.5 1226.0,168.4 1230,168C1234.0,167.6 1244.2,166.9 1250,166.7C1255.8,166.4 1270.0,166.0 1276.7,166C1283.4,166.0 1298.3,166.5 1303.3,166.7C1308.3,166.9 1315.2,166.9 1316.7,167.3C1318.2,167.7 1317.0,169.3 1315.3,170C1313.6,170.7 1306.1,172.0 1303.3,172.7C1300.5,173.4 1294.9,174.6 1292.7,175.3C1290.5,176.0 1288.0,177.4 1286,178C1284.0,178.6 1278.9,179.3 1276.7,180C1274.5,180.7 1270.4,182.5 1268.7,183.3C1267.0,184.1 1264.5,185.9 1263.3,186.7C1262.1,187.4 1261.3,188.9 1259.3,189.3C1257.3,189.7 1250.5,190.0 1247.3,190C1244.1,190.0 1236.8,189.5 1234,189.3C1231.2,189.1 1225.5,189.3 1224.7,188.7C1223.9,188.1 1228.1,185.4 1227.3,184.7C1226.5,184.0 1220.2,183.6 1218,183.3C1215.8,183.0 1211.3,182.6 1210,182C1208.7,181.4 1208.3,179.2 1207.3,178.7C1206.3,178.2 1202.8,178.4 1202,178C1201.2,177.6 1200.2,176.0 1200.7,175.3Z M1300,176.9C1303.4,175.9 1313.6,171.5 1317.5,170.6C1321.4,169.7 1327.5,170.0 1331.2,169.8C1335.0,169.7 1344.5,169.5 1347.5,169.4C1350.5,169.3 1352.7,168.9 1355,168.8C1357.3,168.7 1364.3,169.0 1366.2,168.8C1368.1,168.6 1367.3,167.4 1370,166.9C1372.7,166.4 1383.0,165.5 1387.5,165.2C1392.0,164.9 1401.5,164.8 1406.2,164.8C1410.9,164.8 1421.1,164.9 1425,165C1428.9,165.1 1433.9,165.3 1437.5,165.6C1441.1,165.9 1452.2,167.0 1453.8,167.5C1455.4,168.0 1450.8,168.9 1450,169.4C1449.2,169.9 1445.9,171.0 1447.5,171.2C1449.1,171.3 1458.1,170.6 1462.5,170.6C1466.9,170.6 1480.9,170.7 1482.5,171.2C1484.1,171.7 1477.2,173.7 1475,174.4C1472.8,175.1 1466.9,176.2 1465,176.9C1463.1,177.6 1460.9,179.1 1460,180C1459.1,180.9 1457.9,182.9 1458.1,183.8C1458.2,184.7 1461.6,186.4 1461.2,186.9C1460.8,187.4 1455.5,187.4 1455,188.1C1454.5,188.8 1457.0,191.6 1457.5,192.5C1458.0,193.4 1459.3,194.9 1458.8,195.6C1458.3,196.3 1455.0,197.5 1453.8,198.1C1452.5,198.7 1449.3,199.3 1448.8,200C1448.3,200.7 1449.8,202.9 1450,203.8C1450.2,204.7 1451.4,206.6 1450.6,207.5C1449.8,208.4 1445.8,210.3 1443.8,211.2C1441.8,212.1 1437.3,214.2 1435,215C1432.7,215.8 1427.8,216.8 1425,217.5C1422.2,218.2 1415.3,219.7 1412.5,220.6C1409.7,221.5 1405.0,223.5 1402.5,224.4C1400.0,225.3 1394.5,226.7 1392.5,227.5C1390.5,228.3 1387.6,230.1 1386.2,231.2C1384.8,232.3 1381.8,235.1 1381.2,236.2C1380.6,237.3 1381.5,239.1 1381.2,240C1380.9,240.9 1379.7,243.2 1378.8,243.8C1377.9,244.4 1375.2,244.6 1373.8,244.4C1372.4,244.2 1369.1,242.9 1367.5,242.5C1365.9,242.1 1362.6,241.8 1361.2,241.2C1359.8,240.6 1357.5,238.8 1356.2,237.5C1355.0,236.2 1352.3,232.6 1351.2,231.2C1350.1,229.8 1348.4,227.3 1347.5,226.2C1346.6,225.1 1344.3,223.3 1343.8,222.5C1343.2,221.7 1342.6,220.9 1343.1,220C1343.6,219.1 1346.5,216.5 1347.5,215.6C1348.5,214.7 1351.7,212.9 1351.2,212.5C1350.7,212.1 1345.2,212.8 1343.8,212.5C1342.4,212.2 1340.3,210.6 1340,210C1339.7,209.4 1341.6,208.1 1341.2,207.5C1340.8,206.9 1337.2,205.6 1336.9,205C1336.6,204.4 1339.0,203.3 1338.8,202.5C1338.6,201.7 1336.2,199.8 1335,198.8C1333.8,197.8 1330.4,195.3 1328.8,194.4C1327.2,193.5 1324.5,192.4 1322.5,191.9C1320.5,191.4 1315.3,190.8 1312.5,190.6C1309.7,190.4 1302.8,190.9 1300,190.6C1297.2,190.3 1292.8,188.9 1290,188C1287.2,187.1 1278.0,184.2 1278,183C1278.0,181.8 1287.2,179.6 1290,178.8C1292.8,178.0 1296.6,177.9 1300,176.9Z M1441.9,224.4C1442.2,223.8 1444.7,222.7 1446.2,222.5C1447.7,222.3 1451.9,223.0 1453.8,223.1C1455.7,223.2 1459.5,223.2 1461.2,223.1C1462.9,222.9 1465.8,222.0 1467.5,221.9C1469.2,221.8 1473.7,222.0 1475,222.5C1476.3,223.0 1478.1,225.3 1478.1,226.2C1478.1,227.1 1476.3,228.8 1475,229.4C1473.7,230.0 1469.2,230.8 1467.5,231.2C1465.8,231.6 1462.9,232.5 1461.2,232.5C1459.5,232.5 1455.5,231.4 1453.8,231.2C1452.1,231.0 1448.8,231.1 1447.5,230.6C1446.2,230.1 1444.5,228.3 1443.8,227.5C1443.1,226.7 1441.6,225.0 1441.9,224.4Z M1502.4,253.8C1502.4,252.8 1502.6,250.4 1503.3,249.7C1504.0,249.0 1506.6,248.5 1507.9,248.3C1509.2,248.1 1512.3,247.9 1513.4,248.3C1514.5,248.7 1516.4,250.7 1516.6,251.5C1516.8,252.3 1515.0,253.9 1515.2,254.7C1515.4,255.4 1517.2,256.7 1518,257.5C1518.8,258.3 1521.0,260.6 1521.7,261.2C1522.4,261.8 1522.6,262.0 1523.5,262.1C1524.4,262.2 1528.3,260.4 1529,262.1C1529.7,263.8 1529.7,273.7 1529,275.4C1528.3,277.1 1525.0,275.3 1523.5,275.4C1522.0,275.4 1518.7,275.6 1517.1,275.8C1515.5,276.0 1512.3,276.5 1510.7,276.7C1509.1,276.9 1505.1,277.8 1504.2,277.7C1503.3,277.6 1503.0,276.8 1503.3,276.3C1503.6,275.8 1506.8,274.6 1507,274C1507.2,273.4 1505.1,271.9 1505.2,271.2C1505.3,270.5 1507.6,269.2 1507.9,268.5C1508.2,267.8 1507.3,265.9 1507.5,265.3C1507.7,264.7 1509.9,264.0 1509.7,263.5C1509.5,263.0 1506.9,261.9 1506.1,261.2C1505.3,260.4 1503.8,258.4 1503.3,257.5C1502.8,256.6 1502.4,254.8 1502.4,253.8Z M1530,315.8C1529.2,320.7 1524.8,316.2 1523.3,316.7C1521.8,317.2 1519.5,319.5 1518.3,320C1517.0,320.5 1514.5,320.4 1513.3,320.8C1512.0,321.2 1509.4,322.9 1508.3,323.3C1507.2,323.7 1505.2,324.4 1504.2,324.2C1503.2,324.0 1501.4,322.1 1500,321.7C1498.6,321.3 1494.3,321.5 1493.3,320.8C1492.3,320.1 1491.7,316.9 1491.7,315.8C1491.7,314.7 1493.3,312.8 1493.3,311.7C1493.3,310.6 1491.8,308.2 1491.7,306.7C1491.6,305.2 1491.9,301.1 1492.5,300C1493.1,298.9 1495.1,298.5 1496.7,298.3C1498.3,298.1 1502.9,298.3 1505,298.3C1507.1,298.3 1511.6,298.7 1513.3,298.3C1515.0,297.9 1517.7,296.0 1518.3,295C1518.9,294.0 1518.5,291.1 1518.3,290C1518.1,288.9 1517.5,286.4 1516.7,285.8C1515.9,285.2 1512.8,285.4 1511.7,285C1510.7,284.6 1507.7,283.1 1508.3,282.5C1508.9,281.9 1514.8,280.5 1516.7,280C1518.6,279.5 1521.6,278.6 1523.3,278.3C1525.0,278.0 1529.2,272.8 1530,277.5C1530.8,282.2 1530.8,310.9 1530,315.8Z M1530,426.3C1529.2,439.2 1525.2,426.4 1523.3,426.7C1521.4,427.0 1517.1,428.5 1515,428.7C1512.9,428.9 1508.8,428.1 1506.7,428.3C1504.6,428.5 1500.0,430.0 1498.3,430C1496.6,430.0 1494.8,429.1 1493.3,428.3C1491.8,427.5 1488.5,424.7 1486.7,423.3C1484.9,421.9 1480.7,418.9 1479.2,417.5C1477.7,416.1 1476.2,413.1 1475,411.7C1473.8,410.3 1470.2,408.2 1469.2,406.7C1468.2,405.2 1467.3,401.5 1466.7,400C1466.1,398.5 1464.1,396.5 1464.2,395C1464.3,393.5 1467.0,390.2 1467.5,388.3C1468.0,386.4 1468.5,381.8 1468.3,380C1468.1,378.2 1465.9,375.4 1465.8,374.2C1465.7,372.9 1466.9,370.9 1467.5,370C1468.1,369.1 1470.2,367.9 1470.8,366.7C1471.4,365.4 1471.8,361.7 1472.5,360C1473.2,358.3 1475.4,354.7 1476.7,353.3C1478.0,351.9 1481.6,350.4 1483.3,349.2C1485.0,347.9 1489.2,344.7 1490,343.3C1490.8,341.9 1489.6,339.6 1490,338.3C1490.4,337.1 1492.0,334.4 1493.3,333.3C1494.5,332.2 1498.6,330.2 1500,329.2C1501.4,328.2 1503.0,325.5 1504.2,325C1505.5,324.5 1508.4,324.9 1510,325C1511.6,325.1 1515.0,325.9 1516.7,325.8C1518.4,325.7 1521.6,324.5 1523.3,324.2C1525.0,323.9 1529.2,310.5 1530,323.3C1530.8,336.1 1530.8,413.4 1530,426.3Z M315.6,682.7C318.4,673.7 319.9,682.6 322.7,682.2C325.5,681.8 334.5,680.2 337.8,679.6C341.1,679.0 346.4,677.3 348.9,677.3C351.4,677.3 355.9,679.5 357.8,679.6C359.7,679.7 361.3,678.2 364.4,677.8C367.4,677.4 378.3,676.6 382.2,676.7C386.1,676.8 391.7,678.8 395.6,678.9C399.5,679.0 409.1,677.8 413.3,677.3C417.5,676.8 426.3,675.6 428.9,675.1C431.5,674.6 433.0,673.0 434.4,672.9C435.8,672.8 438.1,674.1 440,674.4C441.9,674.7 447.2,675.8 450,675.6C452.8,675.4 459.0,673.6 462.2,672.9C465.4,672.2 472.3,670.7 475.6,670C478.9,669.3 486.1,667.9 488.9,667.1C491.7,666.4 495.6,664.5 497.8,664C500.0,663.5 504.8,663.1 506.7,663.3C508.6,663.5 511.6,665.0 513.3,665.6C515.0,666.2 518.0,667.9 520,668.4C522.0,668.9 526.9,670.0 528.9,670C530.9,670.0 533.7,668.4 535.6,668.4C537.5,668.4 542.3,669.7 544.4,670C546.5,670.3 550.8,670.4 552.2,671.1C553.6,671.8 555.9,674.6 555.6,675.6C555.3,676.6 550.4,677.9 550,678.9C549.6,679.9 551.1,682.7 552.2,683.3C553.3,683.9 557.1,684.7 558.9,684C560.7,683.3 564.3,678.8 566.7,677.8C569.1,676.8 575.3,676.4 577.8,675.6C580.3,674.8 584.2,672.1 586.7,671.1C589.2,670.1 594.8,668.2 597.8,667.8C600.8,667.4 608.9,668.1 611.1,667.8C613.3,667.5 614.6,665.6 615.6,665.6C616.6,665.6 616.4,667.6 618.9,667.8C621.4,668.0 631.3,667.1 635.6,667.1C639.9,667.1 649.7,668.3 653.3,667.8C656.9,667.2 662.2,663.1 664.4,662.7C666.6,662.3 669.1,663.9 671.1,664.4C673.1,664.9 677.2,666.6 680,666.7C682.8,666.8 690.8,665.3 693.3,664.9C695.8,664.5 697.8,663.1 700,663.3C702.2,663.5 708.6,666.1 711.1,666.7C713.6,667.3 718.0,667.9 720,667.8C722.0,667.7 723.4,665.8 726.7,665.6C730.0,665.4 741.3,666.3 746.7,666.2C752.1,666.1 766.8,665.5 770,664.9C773.2,664.3 771.5,661.7 772.2,661.8C772.9,661.9 773.0,665.0 775.6,665.6C778.2,666.2 789.1,666.5 793.3,666.7C797.5,666.9 806.4,666.7 808.9,667.1C811.4,667.5 810.5,669.3 813.3,670C816.1,670.7 827.2,672.3 831.1,672.9C835.0,673.5 841.1,674.5 844.4,675.1C847.7,675.7 853.9,677.2 857.8,677.8C861.7,678.4 871.7,679.6 875.6,680C879.5,680.4 886.5,680.6 888.9,681.1C891.2,681.6 894.4,683.3 894.4,684.4C894.4,685.5 890.7,688.9 888.9,690C887.1,691.1 882.2,692.4 880,693.3C877.8,694.2 872.5,696.3 871.1,697.3C869.7,698.3 868.6,700.2 868.9,701.1C869.2,702.0 872.0,703.8 873.3,704.4C874.5,705.0 879.2,705.5 878.9,706C878.6,706.5 873.2,707.9 871.1,708.4C869.0,708.9 863.9,709.4 862.2,710C860.5,710.6 857.2,712.3 857.8,713.3C858.4,714.3 863.9,716.8 866.7,717.8C869.5,718.8 876.1,720.3 880,721.1C883.9,721.9 892.8,723.9 897.8,724.4C902.8,724.9 915.0,724.9 920,724.9C925.0,724.9 933.3,724.1 937.8,724C942.2,723.9 951.2,723.7 955.6,724C960.0,724.3 968.9,725.7 973.3,726.2C977.7,726.7 986.6,727.7 991.1,727.8C995.6,727.9 1004.4,727.0 1008.9,727.1C1013.4,727.2 1022.3,728.4 1026.7,728.4C1031.1,728.4 1043.9,727.5 1044.4,727.1C1045.0,726.8 1034.4,725.9 1031.1,725.6C1027.8,725.3 1020.3,724.8 1017.8,724.4C1015.3,724.0 1012.2,723.0 1011.1,722.2C1010.0,721.4 1010.3,718.6 1008.9,717.8C1007.5,717.0 1000.3,716.2 1000,715.6C999.7,715.0 1004.2,713.7 1006.7,713.3C1009.2,712.9 1016.8,712.5 1020,712.2C1023.2,711.9 1031.4,711.5 1032.2,711.1C1033.0,710.7 1029.1,709.7 1026.7,709.3C1024.3,708.9 1016.6,708.2 1013.3,707.8C1010.0,707.4 1002.2,706.8 1000,706.2C997.8,705.6 996.1,704.0 995.6,703.3C995.1,702.6 993.9,700.6 995.6,700.4C997.3,700.2 1005.6,701.8 1008.9,701.8C1012.2,701.8 1018.9,701.0 1022.2,700.4C1025.5,699.8 1031.7,698.0 1035.6,697.3C1039.5,696.5 1048.3,695.0 1053.3,694.4C1058.3,693.8 1070.0,692.6 1075.6,692.2C1081.2,691.9 1092.2,691.7 1097.8,691.6C1103.3,691.5 1117.2,691.5 1120,691.6C1122.8,691.7 1118.6,692.4 1120,692.4C1121.4,692.4 1128.6,691.5 1131.4,691.2C1134.2,690.9 1140.5,689.9 1142.8,690.1C1145.1,690.3 1146.8,692.3 1149.6,692.8C1152.4,693.3 1161.9,694.0 1165.6,694.2C1169.3,694.4 1176.6,694.7 1179.2,694.7C1181.8,694.7 1186.1,694.6 1186.1,694.2C1186.1,693.8 1180.3,692.1 1179.2,691.2C1178.1,690.3 1175.8,687.0 1176.9,686.7C1178.0,686.4 1185.5,688.7 1188.3,689C1191.1,689.3 1196.3,689.1 1199.7,689C1203.1,688.9 1212.6,688.6 1215.7,688.3C1218.8,688.0 1222.5,686.7 1224.8,686.7C1227.1,686.7 1231.1,688.0 1233.9,688.3C1236.8,688.6 1244.8,689.1 1247.6,689C1250.4,688.9 1254.1,687.7 1256.7,687.8C1259.3,687.9 1265.6,689.6 1268.1,689.7C1270.6,689.8 1274.8,689.0 1276.7,688.7C1278.6,688.5 1281.6,688.0 1283.3,687.7C1285.0,687.5 1288.4,687.0 1290,686.7C1291.6,686.4 1295.0,685.7 1296,685.3C1297.0,684.9 1298.0,683.9 1298,683.3C1298.0,682.7 1296.5,681.5 1296,680.7C1295.5,680.0 1294.1,678.1 1294,677.3C1293.9,676.5 1294.8,674.8 1295.3,674C1295.8,673.2 1297.8,672.0 1298,671.3C1298.2,670.6 1296.5,669.4 1296.7,668.7C1296.9,668.0 1298.5,666.6 1299.3,666C1300.1,665.4 1302.2,664.7 1303.3,664C1304.4,663.3 1306.9,661.3 1308,660.7C1309.1,660.1 1310.9,659.5 1312,659.3C1313.1,659.0 1315.5,659.0 1316.7,658.7C1318.0,658.5 1320.7,657.7 1322,657.3C1323.3,656.9 1326.1,656.0 1327.3,655.7C1328.5,655.5 1330.7,655.2 1331.3,655.3C1331.9,655.4 1332.5,656.3 1332.3,656.7C1332.0,657.1 1330.2,658.0 1329.3,658.3C1328.4,658.6 1326.4,659.1 1325.3,659.3C1324.2,659.5 1321.9,659.7 1320.7,660C1319.5,660.3 1316.8,661.2 1316,661.7C1315.2,662.2 1314.7,663.5 1314.7,664C1314.7,664.5 1316.4,665.0 1316,665.3C1315.6,665.6 1312.4,666.3 1311.3,666.7C1310.2,667.1 1308.1,668.2 1307.3,668.7C1306.5,669.2 1304.8,670.2 1304.7,670.7C1304.6,671.2 1305.9,672.2 1306.7,672.7C1307.5,673.2 1310.3,674.1 1311.3,674.7C1312.3,675.3 1314.0,676.5 1314.7,677.3C1315.5,678.0 1316.7,679.7 1317.3,680.7C1317.9,681.7 1318.9,684.3 1319.3,685.3C1319.7,686.3 1320.7,688.0 1320.7,688.7C1320.7,689.5 1319.9,690.7 1319.3,691.3C1318.7,691.9 1317.2,692.8 1316,693.3C1314.8,693.8 1311.6,694.8 1310,695.3C1308.4,695.8 1305.0,696.9 1303.3,697.3C1301.6,697.7 1298.4,698.4 1296.7,698.7C1295.0,699.0 1291.7,699.8 1290,700C1288.3,700.2 1285.0,700.7 1283.3,700.7C1281.6,700.7 1278.5,700.2 1276.7,700.3C1275.0,700.4 1269.5,701.0 1269.3,701.3C1269.1,701.6 1274.2,702.3 1275.3,702.7C1276.3,703.1 1278.1,704.0 1277.7,704.3C1277.3,704.6 1273.4,704.8 1272,705C1270.6,705.2 1267.8,705.7 1266.7,706C1265.6,706.3 1263.2,706.8 1263.3,707.3C1263.4,707.8 1266.0,709.4 1267.3,710C1268.5,710.6 1271.5,711.6 1273.3,712C1275.1,712.4 1279.9,712.9 1282,713.3C1284.1,713.7 1287.5,714.9 1290,715.3C1292.5,715.7 1298.7,715.9 1302.2,716.3C1305.7,716.7 1314.8,718.0 1318.2,718.6C1321.6,719.2 1326.5,720.9 1329.6,720.9C1332.7,720.9 1339.5,719.0 1343.2,718.6C1346.9,718.2 1354.6,717.5 1359.2,717.4C1363.8,717.2 1375.4,717.7 1379.7,717.4C1384.0,717.1 1389.9,715.6 1393.3,715.2C1396.7,714.8 1403.2,714.4 1407,714C1410.8,713.6 1422.1,713.0 1424.1,712.4C1426.1,711.8 1425.3,710.0 1422.9,709.5C1420.5,709.0 1407.1,708.9 1404.7,708.3C1402.3,707.7 1402.2,705.6 1403.6,704.9C1405.0,704.2 1412.5,703.3 1416.1,702.6C1419.7,701.9 1427.8,700.1 1432.1,699.2C1436.4,698.4 1446.0,696.6 1450.3,695.8C1454.6,695.0 1463.5,693.6 1466.2,692.8C1468.9,691.9 1469.6,690.0 1471.9,689C1474.2,688.0 1481.7,685.3 1484.4,684.4C1487.1,683.5 1490.8,682.5 1493.6,682.1C1496.4,681.7 1503.7,681.1 1507.2,681C1510.8,680.9 1518.6,681.4 1522,681.5C1525.4,681.6 1533.0,672.5 1534.6,681.5C1536.2,690.5 1688.9,744.9 1534.6,753.9C1380.3,762.9 452.4,762.8 300,753.9C147.6,745.0 312.8,691.7 315.6,682.7Z M1342.1,712.4C1342.7,711.8 1348.2,710.4 1350.1,709.5C1351.9,708.6 1354.6,705.7 1356.9,704.9C1359.2,704.1 1365.9,703.3 1368.3,703.3C1370.7,703.3 1374.9,704.1 1376.2,704.9C1377.5,705.7 1379.2,708.5 1378.5,709.5C1377.8,710.5 1373.3,712.2 1370.6,712.9C1367.9,713.5 1360.0,714.5 1356.9,714.7C1353.8,714.9 1347.3,715.0 1345.5,714.7C1343.7,714.4 1341.5,713.0 1342.1,712.4Z"/>
<path fill="#808080" stroke="#808080" stroke-width="1.3" stroke-linejoin="round" d="M390.8,183.7C391.2,183.2 395.0,181.7 396.7,181.7C398.4,181.7 403.8,183.2 404.2,183.7C404.6,184.2 401.4,185.5 400,185.8C398.6,186.1 394.4,186.1 393.3,185.8C392.2,185.5 390.4,184.2 390.8,183.7Z M470.8,175C471.6,174.7 477.2,174.3 480,174.2C482.8,174.1 491.6,174.0 493.3,174.2C495.0,174.4 494.3,175.4 493.3,175.8C492.3,176.2 486.9,177.3 485,177.5C483.1,177.7 479.8,177.7 478.3,177.5C476.8,177.3 474.2,176.6 473.3,176.3C472.4,176.0 470.0,175.3 470.8,175Z M625.8,175.5C626.1,174.8 631.3,173.7 633.3,173.3C635.3,172.9 639.6,172.4 641.7,172.5C643.8,172.6 648.1,173.6 650,174.2C651.9,174.8 656.0,176.7 656.7,177.5C657.4,178.3 656.8,180.3 655.8,180.8C654.8,181.3 650.5,181.7 648.3,181.7C646.1,181.7 640.5,181.2 638.3,180.8C636.1,180.4 632.4,179.4 630.8,178.7C629.2,178.0 625.5,176.2 625.8,175.5Z M653.3,183.7C653.3,183.1 656.6,180.6 658.3,180C660.0,179.4 664.8,179.1 666.7,179.2C668.6,179.3 672.5,180.3 673.3,180.8C674.1,181.3 674.1,182.5 673.3,183C672.5,183.5 668.6,184.4 666.7,184.7C664.8,184.9 660.0,185.1 658.3,185C656.6,184.9 653.3,184.3 653.3,183.7Z M779.2,191.7C779.4,191.1 783.0,190.2 785,190C787.0,189.8 792.4,189.5 795,189.7C797.6,189.9 804.6,190.7 805.8,191.3C806.9,191.9 805.8,193.7 804.2,194.2C802.6,194.7 795.9,195.2 793.3,195.3C790.7,195.4 785.1,195.1 783.3,194.7C781.5,194.2 779.0,192.3 779.2,191.7Z M809.2,193C809.4,192.7 814.7,192.0 816.7,192C818.7,192.0 824.2,192.9 825,193.3C825.8,193.7 824.5,194.8 823.3,195C822.0,195.2 816.8,194.9 815,194.7C813.2,194.4 809.0,193.3 809.2,193Z M788.3,198.7C788.7,198.3 793.3,197.2 795,197.2C796.7,197.2 801.3,198.3 801.7,198.7C802.1,199.1 799.5,200.1 798.3,200.3C797.0,200.5 793.0,200.5 791.7,200.3C790.5,200.1 787.9,199.1 788.3,198.7Z M793.4,271.7C793.4,270.3 794.8,266.9 795.3,265.7C795.8,264.5 796.6,262.7 797,262.3C797.4,261.9 798.5,261.9 798.8,262.5C799.1,263.1 799.5,265.6 799.7,266.8C799.9,268.0 800.4,271.0 800.7,272.2C801.0,273.4 801.9,275.6 802.4,276.6C802.9,277.6 804.9,279.4 804.9,280C804.9,280.6 803.0,281.0 802.4,281.5C801.8,282.0 800.3,283.3 800.2,284.2C800.1,285.1 801.4,288.1 801.3,289C801.2,289.9 799.6,291.5 799.1,291.7C798.6,291.9 797.6,291.4 797.3,290.7C797.0,290.0 796.6,287.5 796.4,286.3C796.2,285.1 796.0,282.1 795.9,280.9C795.8,279.7 795.6,277.8 795.3,276.6C795.0,275.5 793.4,273.1 793.4,271.7Z M918,206.7C918.5,206.3 921.8,205.1 923.3,205C924.8,204.9 929.2,205.5 930,205.8C930.8,206.1 930.8,207.1 930,207.5C929.2,207.9 924.6,208.6 923.3,208.7C921.9,208.8 919.9,208.6 919.2,208.3C918.5,208.1 917.5,207.1 918,206.7Z M949.2,231.7C949.4,231.3 953.5,230.7 955,230.8C956.5,230.9 960.2,232.1 960.8,232.5C961.4,232.9 960.9,234.0 960,234.2C959.1,234.3 954.6,234.0 953.3,233.7C951.9,233.4 949.0,232.1 949.2,231.7Z M964.2,243C964.6,242.7 967.5,242.3 968.3,242.5C969.1,242.7 970.8,243.8 970.8,244.2C970.8,244.5 969.0,245.2 968.3,245.3C967.6,245.4 965.5,245.0 965,244.7C964.5,244.4 963.8,243.3 964.2,243Z M1007.5,252.5C1008.1,251.9 1012.3,250.4 1013.3,250.3C1014.3,250.2 1015.5,251.4 1015.3,252C1015.1,252.6 1012.6,254.3 1011.7,254.7C1010.8,255.1 1008.8,255.3 1008.3,255C1007.8,254.7 1006.9,253.1 1007.5,252.5Z M1078.3,264.2C1078.5,263.6 1081.7,262.8 1082.5,263.3C1083.3,263.8 1084.8,267.4 1085,268.3C1085.2,269.2 1084.7,270.8 1084.2,270.8C1083.7,270.8 1081.5,269.1 1080.8,268.3C1080.1,267.5 1078.1,264.8 1078.3,264.2Z M588,411.3C588.5,410.8 590.5,412.5 591.3,413.3C592.0,414.1 593.6,416.9 594,418C594.4,419.1 595.0,421.2 594.7,422C594.4,422.8 592.0,424.6 591.3,424.7C590.5,424.8 589.2,423.6 588.7,422.7C588.2,421.8 587.4,418.7 587.3,417.3C587.2,415.9 587.5,411.8 588,411.3Z M684,378.7C684.5,378.1 687.0,376.8 688,376.7C689.0,376.6 691.7,377.3 692,378C692.3,378.7 691.4,381.3 690.7,382C690.0,382.7 687.5,383.8 686.7,383.7C685.9,383.6 684.6,382.2 684.3,381.6C684.0,381.0 683.5,379.3 684,378.7Z M722.7,365.3C723.0,364.1 725.2,360.6 726,360C726.8,359.4 728.9,359.9 729.1,360.7C729.4,361.5 728.4,365.4 728,366.7C727.6,368.0 726.6,371.0 726,371.3C725.4,371.6 723.7,370.1 723.3,369.3C722.9,368.6 722.4,366.5 722.7,365.3Z M722.7,384C723.1,382.9 725.7,382.1 726.7,382C727.7,381.9 730.4,382.4 730.7,383.3C731.0,384.2 729.3,387.9 729.3,389.3C729.3,390.7 729.9,393.5 730.7,394.7C731.5,395.9 734.8,397.7 736,398.7C737.2,399.7 739.8,401.9 740,402.7C740.2,403.5 738.3,405.5 737.3,405.3C736.3,405.1 733.2,401.8 732,401.3C730.8,400.8 728.9,402.0 728,401.3C727.1,400.6 725.3,397.3 724.7,396C724.1,394.7 723.5,392.2 723.3,390.7C723.0,389.2 722.3,385.1 722.7,384Z M712,416C712.2,415.3 714.9,413.2 716,412C717.1,410.8 720.0,407.2 720.7,406.7C721.5,406.2 722.3,407.2 722,408C721.7,408.8 719.0,412.1 718,413.3C717.0,414.5 714.8,417.0 714,417.3C713.2,417.6 711.8,416.7 712,416Z M729.3,405.3C729.8,405.0 732.3,406.0 733.3,406.7C734.3,407.4 737.0,409.7 737.3,410.7C737.6,411.7 736.7,414.4 736,414.7C735.3,415.0 732.8,414.0 732,413.3C731.2,412.6 729.6,410.3 729.3,409.3C729.0,408.3 728.8,405.6 729.3,405.3Z M729.3,418C729.7,417.4 732.3,416.6 733.3,416C734.3,415.4 736.1,413.8 737.3,413.3C738.5,412.8 741.8,411.5 742.7,412C743.6,412.5 744.5,416.0 744.7,417.3C744.9,418.6 744.5,421.7 744,422.7C743.5,423.7 741.5,425.3 740.7,425.3C739.9,425.3 738.2,423.4 737.3,422.7C736.4,422.0 734.2,420.2 733.3,420C732.4,419.8 730.5,420.9 730,420.7C729.5,420.4 728.9,418.6 729.3,418Z M673.3,463.2C673.9,463.0 675.8,463.5 677.3,463.7C678.8,463.9 683.3,464.9 685.3,465.1C687.3,465.4 691.5,465.2 693.3,465.7C695.1,466.2 698.3,468.4 700,469.1C701.7,469.8 705.6,470.6 706.7,471.1C707.8,471.6 709.6,472.9 709.1,473.3C708.6,473.7 704.5,474.5 702.7,474.4C700.9,474.3 696.5,473.2 694.7,472.7C692.9,472.2 690.2,471.2 688,470.7C685.8,470.2 679.2,469.1 677.3,468.5C675.4,467.9 673.2,466.3 672.7,465.6C672.2,464.9 672.7,463.4 673.3,463.2Z M711.3,472.7C711.7,472.4 714.9,472.0 716,472C717.1,472.0 719.7,472.4 720,472.7C720.3,473.0 719.6,474.1 718.7,474.4C717.8,474.6 713.6,474.9 712.7,474.7C711.8,474.5 710.9,473.0 711.3,472.7Z M722,472.7C722.2,472.4 725.5,472.1 726.7,472C728.0,471.9 731.5,471.8 732,472C732.5,472.2 731.5,473.7 730.7,474C729.9,474.3 726.4,474.6 725.3,474.4C724.2,474.2 721.8,473.0 722,472.7Z M734,477.3C734.2,476.7 737.5,474.7 738.7,474C740.0,473.3 743.0,472.2 744,472C745.0,471.8 746.9,472.3 746.7,472.7C746.5,473.1 743.9,474.6 742.7,475.3C741.5,476.1 738.4,478.4 737.3,478.7C736.2,478.9 733.8,477.9 734,477.3Z M718.7,476C718.8,475.6 721.9,475.1 722.7,475.3C723.5,475.5 725.4,476.9 725.3,477.3C725.2,477.7 722.8,478.9 722,478.7C721.2,478.5 718.6,476.4 718.7,476Z M719.8,452C720.2,450.9 720.7,447.3 721.2,446C721.7,444.7 722.6,442.4 723.5,441.5C724.4,440.6 726.7,439.6 728,439.2C729.3,438.8 732.5,438.8 734,438.5C735.5,438.2 738.9,437.1 740,437C741.1,436.9 743.0,437.0 743,437.4C743.0,437.8 740.9,439.5 740,440C739.1,440.5 736.7,441.2 735.5,441.5C734.3,441.8 731.3,441.9 730.2,442.2C729.1,442.5 727.1,443.3 726.5,443.8C725.9,444.3 724.7,445.6 725,446C725.3,446.4 727.7,446.8 728.8,446.8C729.9,446.9 733.4,446.2 734,446.4C734.6,446.6 734.2,447.8 733.6,448.2C733.0,448.6 730.4,449.2 729.5,449.4C728.6,449.6 726.5,449.5 726.5,450.1C726.5,450.7 728.8,453.2 729.5,454.2C730.2,455.2 732.0,457.1 732.5,458C733.0,458.9 733.4,461.2 733.2,461.8C733.0,462.4 731.6,463.4 731,463.2C730.4,463.0 728.8,461.1 728,460.2C727.2,459.3 725.5,456.0 725,455.8C724.5,455.6 724.4,458.0 724.2,458.8C724.0,459.6 723.9,462.0 723.5,462.5C723.1,463.0 721.6,463.1 721.2,462.5C720.8,461.9 720.5,458.9 720.1,458C719.7,457.1 718.2,455.8 718.2,455C718.2,454.2 719.4,453.1 719.8,452Z M747.3,438C747.7,437.2 749.5,436.3 750,436.7C750.5,437.1 751.2,440.2 751.3,441.3C751.4,442.4 751.1,444.6 750.7,445.3C750.3,446.0 748.5,447.0 748,446.7C747.5,446.4 746.8,443.8 746.7,442.7C746.6,441.6 746.9,438.8 747.3,438Z M742,454.7C742.3,454.3 745.4,453.8 746,454C746.6,454.2 747.0,455.6 746.7,456C746.4,456.4 743.9,457.3 743.3,457.1C742.7,456.9 741.7,455.1 742,454.7Z M748.7,454C749.2,453.7 752.0,453.1 753.3,453.3C754.5,453.5 758.1,454.8 758.7,455.3C759.3,455.8 758.8,457.2 758,457.3C757.2,457.4 753.8,456.2 752.7,456C751.6,455.8 749.8,455.9 749.3,455.7C748.8,455.4 748.2,454.3 748.7,454Z M816,462.7C816.2,462.2 820.0,461.8 821.3,461.3C822.6,460.8 825.6,459.3 826.7,458.7C827.8,458.1 830.0,457.3 830,456.7C830.0,456.1 827.4,454.5 826.7,454C826.0,453.5 824.5,452.8 824.7,452.7C824.9,452.6 826.9,452.7 828,453.3C829.1,453.9 833.0,456.3 833.3,457.3C833.6,458.3 831.7,460.4 830.7,461.3C829.7,462.2 826.7,464.2 825.3,464.7C823.9,465.2 820.5,465.6 819.3,465.3C818.1,465.1 815.8,463.2 816,462.7Z M837.3,460.7C837.4,460.3 839.4,461.9 840,462.7C840.6,463.4 842.1,466.3 842,466.7C841.9,467.1 839.9,466.8 839.3,466C838.7,465.2 837.2,461.1 837.3,460.7Z M844,466.7 848,468.7 846.7,469.6Z M850,468.7C850.7,468.8 855.4,470.9 856,471.3C856.6,471.8 855.4,472.4 854.7,472.3C854.0,472.2 851.3,470.8 850.7,470.4C850.1,469.9 849.3,468.6 850,468.7Z M858,471.3 860.7,474.7 859.3,476Z M854.7,475.3C855.2,475.2 858.3,475.7 858.7,476C859.1,476.3 858.5,477.5 858,477.6C857.5,477.7 855.1,477.4 854.7,477.1C854.3,476.8 854.2,475.4 854.7,475.3Z M860.7,478C861.1,477.9 863.7,479.0 864,479.3C864.3,479.6 863.7,480.6 863.3,480.7C862.9,480.8 861.0,480.3 860.7,480C860.4,479.7 860.3,478.1 860.7,478Z M877.3,492.7C877.5,492.4 879.4,492.6 880,493.3C880.6,494.1 882.0,497.9 882,498.7C882.0,499.4 880.5,499.6 880,499.3C879.5,499.0 878.3,496.8 878,496C877.7,495.2 877.0,493.0 877.3,492.7Z M869.3,511.3C869.1,510.6 871.0,510.3 872,510.7C873.0,511.1 876.3,513.8 877.3,514.7C878.3,515.6 879.9,517.4 880,518C880.1,518.6 878.8,519.5 878,519.3C877.2,519.1 874.4,517.7 873.3,516.7C872.2,515.7 869.5,512.1 869.3,511.3Z M913.3,502.7C913.5,502.1 916.5,501.7 917.3,501.3C918.1,500.9 919.5,499.0 920,499.3C920.5,499.6 921.9,503.2 921.3,504C920.7,504.8 916.3,506.2 915.3,506C914.3,505.8 913.0,503.3 913.3,502.7Z M769.3,462.7C769.5,462.0 771.7,461.6 772,462C772.3,462.4 772.2,465.3 772,466C771.8,466.7 770.3,467.7 770,467.3C769.7,466.9 769.0,463.4 769.3,462.7Z M804,580.7C804.3,580.2 806.8,579.7 808,579.7C809.2,579.7 812.1,580.7 813.3,580.7C814.5,580.7 816.9,579.4 817.3,580C817.7,580.6 817.0,584.2 816.7,585.3C816.4,586.4 815.5,588.2 814.7,588.7C814.0,589.2 811.6,589.9 810.7,589.6C809.8,589.4 808.0,587.5 807.3,586.7C806.6,585.9 805.7,584.0 805.3,583.3C804.9,582.5 803.7,581.2 804,580.7Z M897.3,559.3C897.1,558.5 899.2,558.3 900,558.7C900.8,559.1 903.2,561.7 904,562.7C904.8,563.7 905.7,565.8 906.7,566.7C907.7,567.6 910.6,569.7 912,570C913.4,570.3 917.4,568.9 918,569.3C918.6,569.7 917.4,572.4 916.7,573.3C916.0,574.2 913.6,575.8 912.7,576.7C911.8,577.6 910.1,580.0 909.3,580.7C908.5,581.5 906.7,582.8 906,582.7C905.3,582.6 904.1,580.8 904,580C903.9,579.2 905.5,576.8 905.3,576C905.0,575.2 902.2,574.1 902,573.3C901.8,572.5 904.1,570.4 904,569.3C903.9,568.2 902.1,566.0 901.3,564.7C900.5,563.5 897.5,560.0 897.3,559.3Z M877.3,597.3C877.4,596.6 879.0,594.8 880,594C881.0,593.2 884.0,591.5 885.3,590.7C886.6,589.9 889.5,588.1 890.7,587.3C891.9,586.5 893.9,584.9 894.7,584C895.5,583.1 896.5,580.6 897.3,580C898.1,579.4 900.5,579.1 901.3,579.3C902.1,579.5 903.8,580.6 904,581.3C904.2,582.0 903.4,583.9 902.7,584.7C902.0,585.5 899.5,587.1 898.7,588C898.0,588.9 897.5,591.0 896.7,592C895.9,593.0 893.1,595.0 892,596C890.9,597.0 889.2,599.5 888,600C886.8,600.5 883.8,600.1 882.7,600C881.6,599.9 880.0,599.6 879.3,599.3C878.6,599.0 877.2,598.0 877.3,597.3Z M1239.3,370.7C1239.5,370.2 1242.0,368.5 1243.3,368C1244.5,367.5 1247.7,366.7 1249.3,366.7C1250.9,366.7 1254.4,367.5 1256,368C1257.6,368.5 1260.5,370.0 1262,370.7C1263.5,371.4 1266.6,372.7 1268,373.3C1269.4,373.9 1272.4,374.8 1273.3,375.3C1274.2,375.8 1275.8,377.0 1275.3,377.3C1274.8,377.6 1270.5,378.2 1269.3,378C1268.0,377.8 1266.5,376.6 1265.3,376C1264.1,375.4 1261.5,373.9 1260,373.3C1258.5,372.7 1255.0,371.7 1253.3,371.3C1251.6,370.9 1248.2,369.9 1246.7,370C1245.2,370.1 1242.2,371.9 1241.3,372C1240.4,372.1 1239.0,371.2 1239.3,370.7Z M1274.7,382C1275.0,381.2 1277.4,378.6 1278.7,378C1280.0,377.4 1283.6,377.1 1285.3,377.3C1287.0,377.5 1290.8,378.7 1292,379.3C1293.2,379.9 1294.9,381.5 1294.7,382C1294.5,382.5 1291.9,383.0 1290.7,383.3C1289.5,383.6 1286.6,384.6 1285.3,384.7C1284.0,384.8 1281.2,384.0 1280,384C1278.8,384.0 1276.7,384.6 1276,384.4C1275.3,384.1 1274.4,382.8 1274.7,382Z M1261.3,383.1C1261.7,382.8 1264.4,382.2 1265.3,382.3C1266.2,382.4 1268.7,383.3 1268.7,383.6C1268.7,383.9 1266.1,384.8 1265.3,384.9C1264.5,385.0 1262.5,384.6 1262,384.4C1261.5,384.2 1260.9,383.4 1261.3,383.1Z M1298.7,382.7C1299.1,382.4 1302.5,382.1 1303.3,382.3C1304.0,382.5 1305.1,383.7 1304.7,384C1304.3,384.3 1300.8,384.9 1300,384.7C1299.2,384.5 1298.3,383.0 1298.7,382.7Z M1259.3,355.3C1259.5,355.0 1262.5,354.0 1263.3,354C1264.0,354.0 1265.5,355.0 1265.3,355.3C1265.1,355.6 1262.8,356.7 1262,356.7C1261.2,356.7 1259.1,355.6 1259.3,355.3Z M1262,360.7C1262.2,360.1 1263.7,359.6 1264,360C1264.3,360.4 1264.9,363.4 1264.7,364C1264.5,364.6 1263.0,365.1 1262.7,364.7C1262.4,364.3 1261.8,361.3 1262,360.7Z M1318.7,616.7C1318.9,616.2 1322.0,615.0 1323.3,614.7C1324.5,614.4 1327.8,613.8 1328.7,614C1329.6,614.2 1330.9,615.5 1330.7,616C1330.5,616.5 1328.4,618.0 1327.3,618.4C1326.2,618.8 1323.1,619.1 1322,618.9C1320.9,618.7 1318.5,617.2 1318.7,616.7Z M1309.3,277.7C1309.5,277.5 1312.4,277.8 1313.3,278C1314.2,278.2 1316.5,278.7 1316.7,279C1317.0,279.3 1315.9,280.2 1315.3,280.3C1314.7,280.4 1312.8,280.0 1312,279.7C1311.2,279.4 1309.1,277.9 1309.3,277.7Z M1232,232C1232.1,231.5 1233.4,229.5 1234,228.7C1234.6,227.9 1235.8,225.6 1236.7,225.3C1237.6,225.0 1240.0,225.6 1241.3,226C1242.5,226.4 1245.4,228.2 1246.7,228.7C1248.0,229.2 1250.8,229.7 1252,230C1253.2,230.3 1255.8,231.0 1256,231.3C1256.2,231.6 1254.1,232.6 1253.3,232.7C1252.5,232.8 1250.3,232.2 1249.3,232C1248.3,231.8 1246.3,231.2 1245.3,231.3C1244.3,231.4 1242.3,232.4 1241.3,232.7C1240.3,233.0 1238.3,234.0 1237.3,234C1236.3,234.0 1234.0,232.9 1233.3,232.7C1232.6,232.4 1231.9,232.5 1232,232Z M1242.3,236C1242.5,235.6 1244.4,234.5 1245.3,234.3C1246.2,234.1 1248.7,234.1 1249.3,234.3C1249.9,234.5 1250.3,235.3 1250,235.7C1249.7,236.1 1247.5,237.1 1246.7,237.3C1245.9,237.5 1243.8,237.7 1243.3,237.5C1242.8,237.3 1242.0,236.4 1242.3,236Z M1254.3,237.3C1254.4,236.9 1255.5,235.9 1256,235.7C1256.5,235.5 1257.9,235.8 1258.3,236C1258.7,236.2 1259.1,237.3 1259,237.7C1258.9,238.1 1257.8,239.1 1257.3,239.2C1256.8,239.3 1255.4,238.9 1255,238.7C1254.6,238.5 1254.2,237.7 1254.3,237.3Z M1265.3,218C1265.5,217.6 1266.6,216.3 1267.3,216.1C1268.0,215.8 1270.0,215.8 1270.7,216C1271.4,216.2 1272.6,217.2 1272.7,217.7C1272.8,218.2 1272.3,219.6 1271.7,220C1271.1,220.4 1268.7,220.7 1268,220.7C1267.3,220.7 1266.3,220.0 1266,219.7C1265.7,219.4 1265.1,218.4 1265.3,218Z M1212,190.5C1212.4,189.9 1215.2,189.1 1217,189C1218.8,188.9 1223.1,189.8 1226,190C1228.9,190.2 1237.0,190.4 1240,190.5C1243.0,190.6 1248.0,190.8 1250,191C1252.0,191.2 1255.1,192.1 1256,192.5C1256.9,192.9 1257.5,194.1 1257,194.5C1256.5,194.9 1254.1,195.9 1252,196C1249.9,196.1 1242.8,195.2 1240,195C1237.2,194.8 1232.5,194.5 1230,194.5C1227.5,194.5 1222.0,195.1 1220,195C1218.0,194.9 1215.0,194.6 1214,194C1213.0,193.4 1211.6,191.1 1212,190.5Z M1180.5,190C1181.0,189.5 1183.4,188.7 1185,188.5C1186.6,188.3 1191.5,188.3 1193,188.5C1194.5,188.7 1196.6,189.4 1197,190C1197.4,190.6 1196.8,192.4 1196,193C1195.2,193.6 1192.4,194.4 1191,194.5C1189.6,194.6 1186.2,194.2 1185,194C1183.8,193.8 1181.6,193.0 1181,192.5C1180.4,192.0 1180.0,190.5 1180.5,190Z M1200,193C1200.4,192.6 1202.8,191.6 1204,191.5C1205.2,191.4 1209.1,191.7 1210,192C1210.9,192.3 1211.6,193.6 1211,194C1210.4,194.4 1206.3,194.9 1205,195C1203.7,195.1 1201.1,194.8 1200.5,194.5C1199.9,194.2 1199.6,193.4 1200,193Z M1181,201.5C1181.0,200.7 1183.5,199.0 1185,198.5C1186.5,198.0 1191.1,197.4 1193,197.5C1194.9,197.6 1199.0,198.4 1200,199C1201.0,199.6 1201.2,201.7 1201,202.5C1200.8,203.3 1199.1,205.0 1198,205.5C1196.9,206.0 1193.6,206.6 1192,206.5C1190.4,206.4 1186.4,205.6 1185,205C1183.6,204.4 1181.0,202.3 1181,201.5Z M1190,212C1190.5,211.4 1194.4,210.0 1196,210C1197.6,210.0 1201.9,211.4 1203,212C1204.1,212.6 1205.6,214.1 1205,214.5C1204.4,214.9 1199.6,215.0 1198,215C1196.4,215.0 1193.0,214.9 1192,214.5C1191.0,214.1 1189.5,212.6 1190,212Z M1113.3,189.3C1114.0,188.7 1118.8,186.6 1120.7,186C1122.6,185.4 1126.9,185.0 1128.7,184.9C1130.5,184.8 1134.6,185.0 1135.3,185.3C1136.0,185.6 1135.0,186.8 1134,187.3C1133.0,187.8 1129.1,188.8 1127.3,189.3C1125.5,189.8 1120.9,190.9 1119.3,191.1C1117.7,191.3 1115.5,190.9 1114.7,190.7C1114.0,190.5 1112.5,189.9 1113.3,189.3Z M1130,191.3C1130.2,190.6 1134.7,188.9 1136.7,188.7C1138.7,188.5 1143.8,189.7 1146,190C1148.2,190.3 1152.5,191.6 1154,191.3C1155.5,191.1 1156.9,188.2 1158,188C1159.1,187.8 1161.2,189.0 1162.7,189.3C1164.2,189.6 1169.0,190.3 1170,190.7C1171.0,191.1 1171.2,192.2 1170.7,192.7C1170.2,193.2 1167.8,194.4 1166,194.7C1164.2,194.9 1158.9,194.7 1156.7,194.7C1154.5,194.7 1150.4,194.4 1148.7,194.7C1147.0,194.9 1145.0,196.8 1143.3,196.7C1141.6,196.6 1137.0,194.7 1135.3,194C1133.6,193.3 1129.8,192.0 1130,191.3Z M1144,184C1143.8,183.4 1146.1,181.7 1147.3,181.3C1148.5,180.9 1152.0,180.6 1153.3,180.7C1154.5,180.8 1157.0,181.5 1157.3,182C1157.5,182.5 1156.4,184.2 1155.3,184.7C1154.2,185.2 1150.1,185.8 1148.7,185.7C1147.3,185.6 1144.2,184.6 1144,184Z M1170.7,180C1171.0,179.5 1174.8,179.1 1176.7,179.1C1178.6,179.1 1184.2,179.5 1186,180C1187.8,180.5 1190.4,182.7 1190.7,183.3C1191.0,183.9 1189.8,184.9 1188.7,184.9C1187.6,184.9 1183.8,183.5 1182,183.3C1180.2,183.1 1175.4,183.5 1174,183.1C1172.6,182.7 1170.4,180.5 1170.7,180Z M1193.3,181.3C1193.6,180.9 1196.8,180.4 1198,180.4C1199.2,180.4 1202.4,181.2 1203.3,181.7C1204.2,182.1 1205.6,183.6 1205.3,184C1205.0,184.4 1202.0,184.8 1200.7,184.7C1199.5,184.6 1196.2,183.7 1195.3,183.3C1194.4,182.9 1193.0,181.7 1193.3,181.3Z M1490,265C1490.5,263.7 1493.6,261.8 1495,261.2C1496.4,260.6 1500.0,259.8 1501.2,260C1502.5,260.2 1504.8,261.5 1505,262.5C1505.2,263.5 1504.0,267.0 1503.1,268.1C1502.2,269.2 1499.0,270.7 1497.5,271.2C1496.0,271.7 1492.1,272.7 1491.2,271.9C1490.3,271.1 1489.5,266.3 1490,265Z M315,265C315.9,263.8 320.6,265.3 322,265.5C323.4,265.7 325.2,266.1 326,266.5C326.8,266.9 327.9,268.3 328,269C328.1,269.7 327.5,271.3 327,272C326.5,272.7 324.6,274.1 324,274.5C323.4,274.9 323.1,274.9 322,275C320.9,275.1 315.9,276.2 315,275C314.1,273.8 314.1,266.2 315,265Z M1181.5,684.4C1182.6,684.0 1190.3,683.2 1192.9,683.3C1195.5,683.4 1201.7,684.7 1202,685.1C1202.3,685.5 1197.5,686.6 1195.2,686.7C1192.9,686.8 1185.5,686.5 1183.8,686.2C1182.1,685.9 1180.4,684.8 1181.5,684.4Z M1272,684C1271.8,683.5 1273.2,682.4 1274,682C1274.8,681.6 1277.6,681.2 1278.7,681C1279.8,680.8 1282.1,681.3 1282.7,680.7C1283.3,680.1 1282.9,676.8 1283.3,676C1283.7,675.2 1285.3,674.3 1286,674C1286.7,673.7 1288.0,673.0 1288.7,673.3C1289.4,673.5 1290.7,675.2 1291.3,676C1291.9,676.8 1292.9,678.5 1293.3,679.3C1293.7,680.1 1294.7,682.0 1294.7,682.7C1294.7,683.4 1294.0,684.3 1293.3,684.7C1292.5,685.1 1290.1,685.8 1288.7,686C1287.3,686.2 1283.7,686.3 1282,686.3C1280.3,686.3 1276.5,686.3 1275.3,686C1274.0,685.7 1272.2,684.5 1272,684Z M1301.7,711.3C1302.0,711.1 1305.2,711.9 1306.7,712C1308.2,712.1 1312.0,712.0 1313.3,712C1314.6,712.0 1316.4,712.0 1317.3,711.7C1318.2,711.4 1319.8,709.4 1320.7,709.3C1321.6,709.2 1324.4,710.4 1324.7,711C1325.0,711.6 1324.0,713.8 1323,714.3C1322.0,714.8 1318.3,714.7 1316.7,714.7C1315.1,714.7 1311.5,714.2 1310,714C1308.5,713.8 1305.7,713.6 1304.7,713.3C1303.7,713.0 1301.5,711.5 1301.7,711.3Z M976.7,705.6C977.2,705.1 981.4,704.1 983.3,704.4C985.2,704.7 991.9,707.1 992.2,707.8C992.5,708.5 987.3,709.9 985.6,710C983.9,710.1 980.0,708.9 978.9,708.4C977.8,707.9 976.2,706.1 976.7,705.6Z M1007.2,378.5C1007.2,378.9 1006.9,379.9 1006.6,380.2C1006.3,380.5 1005.4,380.9 1005,380.9C1004.6,380.9 1003.7,380.5 1003.4,380.2C1003.1,379.9 1002.8,378.9 1002.8,378.5C1002.8,378.1 1003.1,377.1 1003.4,376.8C1003.7,376.5 1004.6,376.1 1005,376.1C1005.4,376.1 1006.3,376.5 1006.6,376.8C1006.9,377.1 1007.2,378.1 1007.2,378.5Z M1002,374.5C1002.0,374.7 1001.8,375.1 1001.6,375.2C1001.4,375.3 1000.8,375.5 1000.5,375.5C1000.2,375.5 999.6,375.3 999.4,375.2C999.2,375.1 999.0,374.7 999,374.5C999.0,374.3 999.2,373.9 999.4,373.8C999.6,373.7 1000.2,373.5 1000.5,373.5C1000.8,373.5 1001.4,373.7 1001.6,373.8C1001.8,373.9 1002.0,374.3 1002,374.5Z M997.7,372.5C997.7,372.6 997.4,373.0 997.3,373.1C997.1,373.2 996.7,373.4 996.5,373.4C996.3,373.4 995.9,373.2 995.7,373.1C995.6,373.0 995.3,372.6 995.3,372.5C995.3,372.4 995.6,372.0 995.7,371.9C995.9,371.8 996.3,371.6 996.5,371.6C996.7,371.6 997.1,371.8 997.3,371.9C997.4,372.0 997.7,372.4 997.7,372.5Z M992.5,370.5C992.5,370.6 992.3,371.0 992.2,371.1C992.1,371.2 991.7,371.3 991.5,371.3C991.3,371.3 990.9,371.2 990.8,371.1C990.7,371.0 990.5,370.6 990.5,370.5C990.5,370.4 990.7,370.0 990.8,369.9C990.9,369.8 991.3,369.7 991.5,369.7C991.7,369.7 992.1,369.8 992.2,369.9C992.3,370.0 992.5,370.4 992.5,370.5Z M556.6,608C556.6,608.3 556.1,608.9 555.8,609.1C555.5,609.3 554.5,609.6 554,609.6C553.5,609.6 552.5,609.3 552.2,609.1C551.9,608.9 551.4,608.3 551.4,608C551.4,607.7 551.9,607.1 552.2,606.9C552.5,606.7 553.5,606.4 554,606.4C554.5,606.4 555.5,606.7 555.8,606.9C556.1,607.1 556.6,607.7 556.6,608Z"/>
<path fill="#f7b79e" stroke="#f7b79e" stroke-width="0.6" stroke-linejoin="round" d="M315.7,309.6C316.6,307.9 321.6,309.8 322.9,309.6C324.2,309.4 325.0,308.6 325.8,308.1C326.6,307.6 328.5,306.6 329.4,305.9C330.3,305.2 332.5,302.9 333,302.3C333.5,301.7 332.6,301.2 333.7,300.9C334.8,300.6 340.2,300.4 341.7,300.2C343.1,300.0 344.4,299.7 345.3,299.4C346.2,299.1 348.1,297.9 348.9,297.6C349.7,297.3 351.1,296.8 351.8,296.9C352.5,296.9 354.2,297.6 354.7,298C355.2,298.4 355.7,299.7 356.1,300.2C356.5,300.7 356.9,301.7 357.6,302.3C358.3,302.9 360.8,304.6 361.9,305.2C363.0,305.8 365.1,306.8 366.2,307.4C367.3,308.0 369.7,309.3 370.6,309.9C371.5,310.5 372.9,311.8 373.4,312.4C373.9,313.0 374.8,314.1 374.9,314.6C375.0,315.1 374.7,316.2 374.2,316.4C373.7,316.6 371.6,315.9 370.6,315.9C369.6,315.9 367.1,316.0 366.2,316.2C365.3,316.4 363.4,317.1 363.1,317.4C362.8,317.7 363.5,318.5 364.1,318.9C364.7,319.2 366.8,319.9 367.7,320.2C368.6,320.5 370.6,321.0 371.3,321.1C372.0,321.2 373.1,321.1 373.4,320.8C373.7,320.5 373.7,319.1 374,318.6C374.3,318.1 375.1,317.2 375.6,316.8C376.1,316.4 377.4,315.6 377.8,315C378.2,314.4 378.9,312.9 378.9,312.4C378.9,311.8 378.0,310.7 378.1,310.6C378.2,310.5 379.2,311.2 379.9,311.4C380.6,311.6 382.9,312.1 383.6,311.9C384.3,311.7 385.8,310.1 385.4,309.6C385.0,309.1 381.7,308.6 380.7,308C379.7,307.4 378.1,305.8 377.1,305.1C376.1,304.4 373.7,302.9 372.7,302.2C371.7,301.5 370.0,299.9 369.1,299.3C368.2,298.7 366.2,297.6 365.5,297.1C364.8,296.6 363.9,295.6 363.7,295.1C363.5,294.6 363.8,293.2 364.1,292.8C364.4,292.4 365.8,292.0 366.2,292.2C366.6,292.4 366.8,293.6 367.3,294.2C367.9,294.8 369.7,296.0 370.6,296.6C371.6,297.2 373.8,298.5 374.9,299.1C376.0,299.7 378.2,300.7 379.2,301.2C380.2,301.7 382.0,302.7 382.8,303.1C383.6,303.5 385.0,304.1 385.4,304.5C385.8,304.9 385.7,306.1 385.9,306.7C386.1,307.3 386.8,308.8 387.2,309.6C387.6,310.4 388.7,312.3 389.3,313.2C389.9,314.1 391.5,316.0 392.2,316.8C392.9,317.6 394.4,319.1 395.1,319.7C395.8,320.3 397.4,321.4 398,321.8C398.6,322.2 400.0,323.0 400.2,322.6C400.4,322.2 399.3,319.7 399.4,318.9C399.5,318.1 400.9,316.8 400.9,316.1C400.9,315.4 399.7,313.8 399.4,313.2C399.1,312.6 398.3,312.0 398.7,311.7C399.1,311.4 401.6,311.0 402.3,310.6C403.0,310.2 403.8,309.0 404.5,308.8C405.2,308.6 407.5,308.8 408.1,309.2C408.7,309.6 409.0,311.0 409.2,311.7C409.4,312.4 409.5,313.9 409.6,314.6C409.7,315.3 410.0,316.8 410.3,317.5C410.6,318.2 411.9,319.8 412.4,320.4C412.8,321.0 413.3,322.2 413.9,322.6C414.4,323.0 415.9,323.2 416.8,323.3C417.7,323.4 419.9,323.7 421.1,323.6C422.3,323.5 424.9,322.6 426.2,322.6C427.5,322.7 430.0,323.8 431.2,324C432.4,324.2 434.7,324.6 435.6,324.4C436.5,324.2 437.7,322.3 438.4,322.2C439.1,322.1 440.9,322.8 441.3,323.3C441.7,323.8 441.9,325.2 441.7,326.2C441.5,327.2 440.3,330.0 439.9,331.2C439.5,332.4 438.8,334.5 438.4,335.6C437.9,336.7 437.2,339.4 436.3,339.9C435.4,340.4 432.4,339.6 431.2,339.5C430.0,339.4 428.0,338.8 426.9,338.8C425.8,338.8 423.7,339.0 422.6,339.2C421.5,339.4 419.3,340.7 418.2,340.6C417.1,340.6 415.1,339.2 413.9,338.8C412.7,338.4 410.1,338.0 408.8,337.7C407.5,337.4 405.0,336.7 403.8,336.3C402.6,335.9 400.5,335.1 399.4,334.8C398.3,334.5 396.1,334.1 395.1,334.1C394.1,334.1 392.3,334.4 391.5,334.8C390.7,335.2 389.1,336.3 388.6,337C388.2,337.7 388.3,339.9 387.9,340.6C387.5,341.3 386.1,342.3 385.4,342.4C384.7,342.4 383.1,341.4 382.1,341C381.2,340.6 378.8,339.7 377.8,339.2C376.8,338.7 375.2,337.6 374.2,337C373.2,336.4 371.0,335.3 369.8,334.8C368.6,334.3 366.0,333.4 364.8,333C363.6,332.6 361.4,331.6 360.4,331.2C359.4,330.8 357.1,330.3 356.8,329.8C356.5,329.3 358.0,327.6 358.3,326.9C358.6,326.2 358.9,324.7 359,324C359.1,323.3 359.8,321.6 359.4,321.1C359.0,320.6 357.1,319.9 356.1,319.7C355.2,319.5 353.0,319.4 351.8,319.5C350.6,319.6 348.0,320.1 346.7,320.2C345.4,320.3 343.1,320.3 341.7,320.4C340.3,320.5 337.4,320.9 335.9,321.1C334.4,321.3 331.0,321.6 329.4,321.8C327.8,322.0 324.6,322.8 322.9,322.9C321.2,323.0 316.6,324.6 315.7,322.9C314.8,321.2 314.8,311.3 315.7,309.6Z"/>
<path fill="#f5cab6" stroke="#f5cab6" stroke-width="0.6" stroke-linejoin="round" d="M415,302C415.2,300.8 418.8,297.5 420,296C421.2,294.5 423.9,290.8 425,290C426.1,289.2 428.0,289.1 429,289.5C430.0,289.9 432.1,292.2 433,293C433.9,293.8 434.9,295.8 436,296C437.1,296.2 440.4,295.0 442,295C443.6,295.0 447.5,295.6 449,296C450.5,296.4 452.8,297.8 454,298.5C455.2,299.2 458.2,301.2 459,302C459.8,302.8 460.5,304.0 460,304.5C459.5,305.0 456.8,305.8 455,306C453.2,306.2 448.1,306.7 446,306.5C443.9,306.3 440.0,304.7 438,304.5C436.0,304.3 431.8,304.8 430,305C428.2,305.2 425.5,306.4 424,306.5C422.5,306.6 419.1,306.1 418,305.5C416.9,304.9 414.8,303.2 415,302Z"/>
<path fill="#f5cab6" stroke="#f5cab6" stroke-width="0.6" stroke-linejoin="round" d="M439.5,290C439.9,289.6 442.9,288.6 444,288.5C445.1,288.4 447.6,288.6 448,289C448.4,289.4 447.9,291.1 447,291.5C446.1,291.9 441.9,292.0 441,291.8C440.1,291.6 439.1,290.4 439.5,290Z"/>
<path fill="#3b4cc0" stroke="#3b4cc0" stroke-width="1" stroke-linejoin="round" d="M479.2,295C479.4,293.5 482.4,290.8 484.2,290C486.0,289.2 491.4,288.4 493.3,288.3C495.2,288.2 498.6,288.7 499.2,289.2C499.8,289.7 499.2,291.9 498.3,292.5C497.4,293.1 492.8,293.5 491.7,294.2C490.6,294.9 489.0,297.2 489.2,298.3C489.4,299.4 492.3,302.2 493.3,303.3C494.3,304.4 496.8,305.6 497.5,306.7C498.2,307.8 499.3,310.8 499.2,311.7C499.1,312.6 496.5,313.6 496.7,314.2C496.9,314.8 500.4,315.9 500.8,316.7C501.2,317.5 500.9,319.9 500,320.3C499.1,320.8 495.0,320.7 493.3,320.3C491.6,319.9 487.6,318.3 486.7,317.5C485.8,316.7 485.4,315.0 485.8,314.2C486.2,313.4 489.9,311.7 490,310.8C490.1,309.9 487.6,307.8 486.7,306.7C485.8,305.6 483.4,303.2 482.5,301.7C481.6,300.2 479.0,296.5 479.2,295Z"/>
<path fill="#3b4cc0" stroke="#3b4cc0" stroke-width="1" stroke-linejoin="round" d="M499.2,305C499.7,305.0 502.3,306.3 502.5,306.7C502.7,307.1 501.3,308.0 500.8,308C500.3,308.0 498.9,307.1 498.7,306.7C498.5,306.3 498.7,305.0 499.2,305Z"/>
<path fill="#f6b49a" stroke="#f6b49a" stroke-width="0.6" stroke-linejoin="round" d="M434.7,352.7C434.5,351.7 436.6,350.8 437.3,351.1C438.1,351.4 439.7,353.9 440.7,355.3C441.7,356.7 444.1,360.5 445.3,362C446.5,363.5 449.2,366.0 450,367.3C450.8,368.6 451.4,371.4 452,372.7C452.6,374.0 453.7,376.5 454.7,378C455.7,379.5 458.8,383.0 460,384.7C461.2,386.4 463.2,389.3 464,391.3C464.8,393.3 465.6,399.2 466,400.7C466.4,402.2 467.5,403.4 467.3,403.3C467.1,403.2 465.6,401.0 464.7,400C463.8,399.0 461.2,396.6 460,395.3C458.8,394.1 455.8,391.3 454.7,390C453.6,388.7 452.1,386.1 451.3,384.7C450.5,383.3 448.8,380.2 448,378.7C447.2,377.2 445.7,374.0 445.3,372.7C444.9,371.4 445.2,369.0 444.7,368C444.2,367.0 442.1,365.8 441.3,364.7C440.6,363.6 439.5,360.8 438.7,359.3C437.9,357.8 434.9,353.7 434.7,352.7Z"/>
<path fill="#f6b49a" stroke="#f6b49a" stroke-width="0.6" stroke-linejoin="round" d="M483.3,346C483.4,345.2 485.2,344.0 486,344C486.8,344.0 488.6,345.2 489.3,346C490.1,346.8 491.0,349.6 492,350.7C493.0,351.8 495.6,354.0 497.3,354.7C499.0,355.4 503.7,356.0 505.3,356C506.9,356.0 509.2,354.4 510,354.7C510.8,354.9 511.7,357.2 512,358C512.3,358.8 513.4,360.4 512.7,360.7C512.0,361.0 508.1,360.4 506.7,360.7C505.3,360.9 502.8,362.4 501.3,362.7C499.8,362.9 495.7,363.3 494.7,362.7C493.7,362.1 493.8,358.8 493.3,358C492.8,357.2 491.3,357.3 490.7,356.7C490.1,356.1 489.4,354.1 488.7,353.3C488.0,352.5 486.0,350.9 485.3,350C484.6,349.1 483.2,346.8 483.3,346Z"/>
<clipPath id="medclip"><path d="M315.7,309.6C316.6,307.9 321.6,309.8 322.9,309.6C324.2,309.4 325.0,308.6 325.8,308.1C326.6,307.6 328.5,306.6 329.4,305.9C330.3,305.2 332.5,302.9 333,302.3C333.5,301.7 332.6,301.2 333.7,300.9C334.8,300.6 340.2,300.4 341.7,300.2C343.1,300.0 344.4,299.7 345.3,299.4C346.2,299.1 348.1,297.9 348.9,297.6C349.7,297.3 351.1,296.8 351.8,296.9C352.5,296.9 354.2,297.6 354.7,298C355.2,298.4 355.7,299.7 356.1,300.2C356.5,300.7 356.9,301.7 357.6,302.3C358.3,302.9 360.8,304.6 361.9,305.2C363.0,305.8 365.1,306.8 366.2,307.4C367.3,308.0 369.7,309.3 370.6,309.9C371.5,310.5 372.9,311.8 373.4,312.4C373.9,313.0 374.8,314.1 374.9,314.6C375.0,315.1 374.7,316.2 374.2,316.4C373.7,316.6 371.6,315.9 370.6,315.9C369.6,315.9 367.1,316.0 366.2,316.2C365.3,316.4 363.4,317.1 363.1,317.4C362.8,317.7 363.5,318.5 364.1,318.9C364.7,319.2 366.8,319.9 367.7,320.2C368.6,320.5 370.6,321.0 371.3,321.1C372.0,321.2 373.1,321.1 373.4,320.8C373.7,320.5 373.7,319.1 374,318.6C374.3,318.1 375.1,317.2 375.6,316.8C376.1,316.4 377.4,315.6 377.8,315C378.2,314.4 378.9,312.9 378.9,312.4C378.9,311.8 378.0,310.7 378.1,310.6C378.2,310.5 379.2,311.2 379.9,311.4C380.6,311.6 382.9,312.1 383.6,311.9C384.3,311.7 385.8,310.1 385.4,309.6C385.0,309.1 381.7,308.6 380.7,308C379.7,307.4 378.1,305.8 377.1,305.1C376.1,304.4 373.7,302.9 372.7,302.2C371.7,301.5 370.0,299.9 369.1,299.3C368.2,298.7 366.2,297.6 365.5,297.1C364.8,296.6 363.9,295.6 363.7,295.1C363.5,294.6 363.8,293.2 364.1,292.8C364.4,292.4 365.8,292.0 366.2,292.2C366.6,292.4 366.8,293.6 367.3,294.2C367.9,294.8 369.7,296.0 370.6,296.6C371.6,297.2 373.8,298.5 374.9,299.1C376.0,299.7 378.2,300.7 379.2,301.2C380.2,301.7 382.0,302.7 382.8,303.1C383.6,303.5 385.0,304.1 385.4,304.5C385.8,304.9 385.7,306.1 385.9,306.7C386.1,307.3 386.8,308.8 387.2,309.6C387.6,310.4 388.7,312.3 389.3,313.2C389.9,314.1 391.5,316.0 392.2,316.8C392.9,317.6 394.4,319.1 395.1,319.7C395.8,320.3 397.4,321.4 398,321.8C398.6,322.2 400.0,323.0 400.2,322.6C400.4,322.2 399.3,319.7 399.4,318.9C399.5,318.1 400.9,316.8 400.9,316.1C400.9,315.4 399.7,313.8 399.4,313.2C399.1,312.6 398.3,312.0 398.7,311.7C399.1,311.4 401.6,311.0 402.3,310.6C403.0,310.2 403.8,309.0 404.5,308.8C405.2,308.6 407.5,308.8 408.1,309.2C408.7,309.6 409.0,311.0 409.2,311.7C409.4,312.4 409.5,313.9 409.6,314.6C409.7,315.3 410.0,316.8 410.3,317.5C410.6,318.2 411.9,319.8 412.4,320.4C412.8,321.0 413.3,322.2 413.9,322.6C414.4,323.0 415.9,323.2 416.8,323.3C417.7,323.4 419.9,323.7 421.1,323.6C422.3,323.5 424.9,322.6 426.2,322.6C427.5,322.7 430.0,323.8 431.2,324C432.4,324.2 434.7,324.6 435.6,324.4C436.5,324.2 437.7,322.3 438.4,322.2C439.1,322.1 440.9,322.8 441.3,323.3C441.7,323.8 441.9,325.2 441.7,326.2C441.5,327.2 440.3,330.0 439.9,331.2C439.5,332.4 438.8,334.5 438.4,335.6C437.9,336.7 437.2,339.4 436.3,339.9C435.4,340.4 432.4,339.6 431.2,339.5C430.0,339.4 428.0,338.8 426.9,338.8C425.8,338.8 423.7,339.0 422.6,339.2C421.5,339.4 419.3,340.7 418.2,340.6C417.1,340.6 415.1,339.2 413.9,338.8C412.7,338.4 410.1,338.0 408.8,337.7C407.5,337.4 405.0,336.7 403.8,336.3C402.6,335.9 400.5,335.1 399.4,334.8C398.3,334.5 396.1,334.1 395.1,334.1C394.1,334.1 392.3,334.4 391.5,334.8C390.7,335.2 389.1,336.3 388.6,337C388.2,337.7 388.3,339.9 387.9,340.6C387.5,341.3 386.1,342.3 385.4,342.4C384.7,342.4 383.1,341.4 382.1,341C381.2,340.6 378.8,339.7 377.8,339.2C376.8,338.7 375.2,337.6 374.2,337C373.2,336.4 371.0,335.3 369.8,334.8C368.6,334.3 366.0,333.4 364.8,333C363.6,332.6 361.4,331.6 360.4,331.2C359.4,330.8 357.1,330.3 356.8,329.8C356.5,329.3 358.0,327.6 358.3,326.9C358.6,326.2 358.9,324.7 359,324C359.1,323.3 359.8,321.6 359.4,321.1C359.0,320.6 357.1,319.9 356.1,319.7C355.2,319.5 353.0,319.4 351.8,319.5C350.6,319.6 348.0,320.1 346.7,320.2C345.4,320.3 343.1,320.3 341.7,320.4C340.3,320.5 337.4,320.9 335.9,321.1C334.4,321.3 331.0,321.6 329.4,321.8C327.8,322.0 324.6,322.8 322.9,322.9C321.2,323.0 316.6,324.6 315.7,322.9C314.8,321.2 314.8,311.3 315.7,309.6Z"/></clipPath><g clip-path="url(#medclip)"><ellipse cx="381" cy="318" rx="5" ry="5" fill="#f0dcd4" opacity="0.9" filter="url(#blS)"/><ellipse cx="383" cy="330" rx="4" ry="4" fill="#f1dcd3" opacity="0.9" filter="url(#blS)"/><ellipse cx="405" cy="334" rx="9" ry="3" fill="#e8dfe0" opacity="0.9" filter="url(#blS)"/><ellipse cx="381.5" cy="324.7" rx="2.5" ry="2.5" fill="#f19579" opacity="0.8" filter="url(#blS)"/><ellipse cx="411.4" cy="329.8" rx="1.8" ry="2" fill="#9ebeff" opacity="1" filter="url(#blX)"/><ellipse cx="395" cy="325" rx="3" ry="2.5" fill="#f19579" opacity="0.6" filter="url(#blS)"/><ellipse cx="340" cy="312" rx="25" ry="6" fill="#f8c3ad" opacity="0.7" filter="url(#blS)"/><ellipse cx="425" cy="333" rx="10" ry="5" fill="#f5a98e" opacity="0.6" filter="url(#blS)"/></g>
<path fill="none" stroke="#fff" stroke-width="1.3" stroke-linejoin="round" stroke-linecap="round" d="M564.2,204.2 L566.7,208.3 L565.8,213.3 L569.2,217.5 L562.5,222.5"/>
<path fill="#808080" stroke="#808080" stroke-width="1" d="M350,303.1C350.1,302.5 350.7,301.3 351.1,300.9C351.5,300.5 352.5,300.1 352.9,300.2C353.2,300.3 353.8,301.4 353.9,302C354.0,302.6 353.5,304.5 353.6,305.2C353.7,305.9 354.5,306.7 354.7,307.4C354.9,308.1 355.1,310.2 355,311C354.9,311.8 354.4,313.4 353.9,313.9C353.4,314.3 351.7,314.7 351.1,314.6C350.5,314.5 349.5,313.8 349.2,313.2C348.9,312.6 348.9,310.3 348.9,309.6C348.9,308.9 349.0,307.9 349.2,307.4C349.4,306.9 350.6,306.4 350.7,305.9C350.8,305.4 349.9,303.7 350,303.1Z M400.2,325.4C400.6,325.2 402.8,325.7 403.8,325.8C404.8,325.9 407.3,326.1 408.1,326.2C408.9,326.3 409.8,326.7 409.9,326.9C410.0,327.1 409.5,327.9 408.8,328C408.1,328.1 405.5,328.1 404.5,328C403.5,327.9 401.4,327.5 400.9,327.2C400.4,326.9 399.8,325.6 400.2,325.4Z M429.1,327.6C429.3,327.2 431.8,326.6 432.7,326.2C433.6,325.8 435.6,324.9 436.3,324.7C437.0,324.5 438.3,324.4 438.4,324.6C438.5,324.8 437.5,326.0 437,326.5C436.5,327.0 434.8,328.0 434.1,328.3C433.4,328.6 431.8,329.2 431.2,329.1C430.6,329.0 428.9,328.0 429.1,327.6Z"/>
</g>
<!-- map frame -->
<rect x="322.5" y="144.5" width="1201" height="600.8" fill="none" stroke="#000" stroke-width="1.1"/>
<!-- label box -->
<rect x="735.5" y="795.5" width="375" height="54" fill="#fff" stroke="#000" stroke-width="1.3"/>
<text class="t" x="922.5" y="828" font-size="20.83" text-anchor="middle">Regional Sea Level Trend: mm/yr</text>
<!-- colorbar -->
<polygon points="396.5,883.5 1449.5,883.5 1480.5,911 1449.5,938.5 396.5,938.5 364.5,911" fill="url(#cw)" stroke="#000" stroke-width="1.2" stroke-linejoin="miter"/>
<g stroke="#000" stroke-width="1.3">
<line x1="396.5" y1="939" x2="396.5" y2="958.5"/><line x1="528.1" y1="939" x2="528.1" y2="958.5"/><line x1="659.8" y1="939" x2="659.8" y2="958.5"/><line x1="791.4" y1="939" x2="791.4" y2="958.5"/><line x1="923" y1="939" x2="923" y2="958.5"/><line x1="1054.6" y1="939" x2="1054.6" y2="958.5"/><line x1="1186.3" y1="939" x2="1186.3" y2="958.5"/><line x1="1317.9" y1="939" x2="1317.9" y2="958.5"/><line x1="1449.5" y1="939" x2="1449.5" y2="958.5"/>
</g>
<g class="t" font-size="25" text-anchor="middle">
<text x="396.5" y="982">−10.0</text><text x="528.1" y="982">−7.5</text><text x="659.8" y="982">−5.0</text><text x="791.4" y="982">−2.5</text><text x="923" y="982">0.0</text><text x="1054.6" y="982">2.5</text><text x="1186.3" y="982">5.0</text><text x="1317.9" y="982">7.5</text><text x="1449.5" y="982">10.0</text>
</g>
</svg>
</body>
</html>
